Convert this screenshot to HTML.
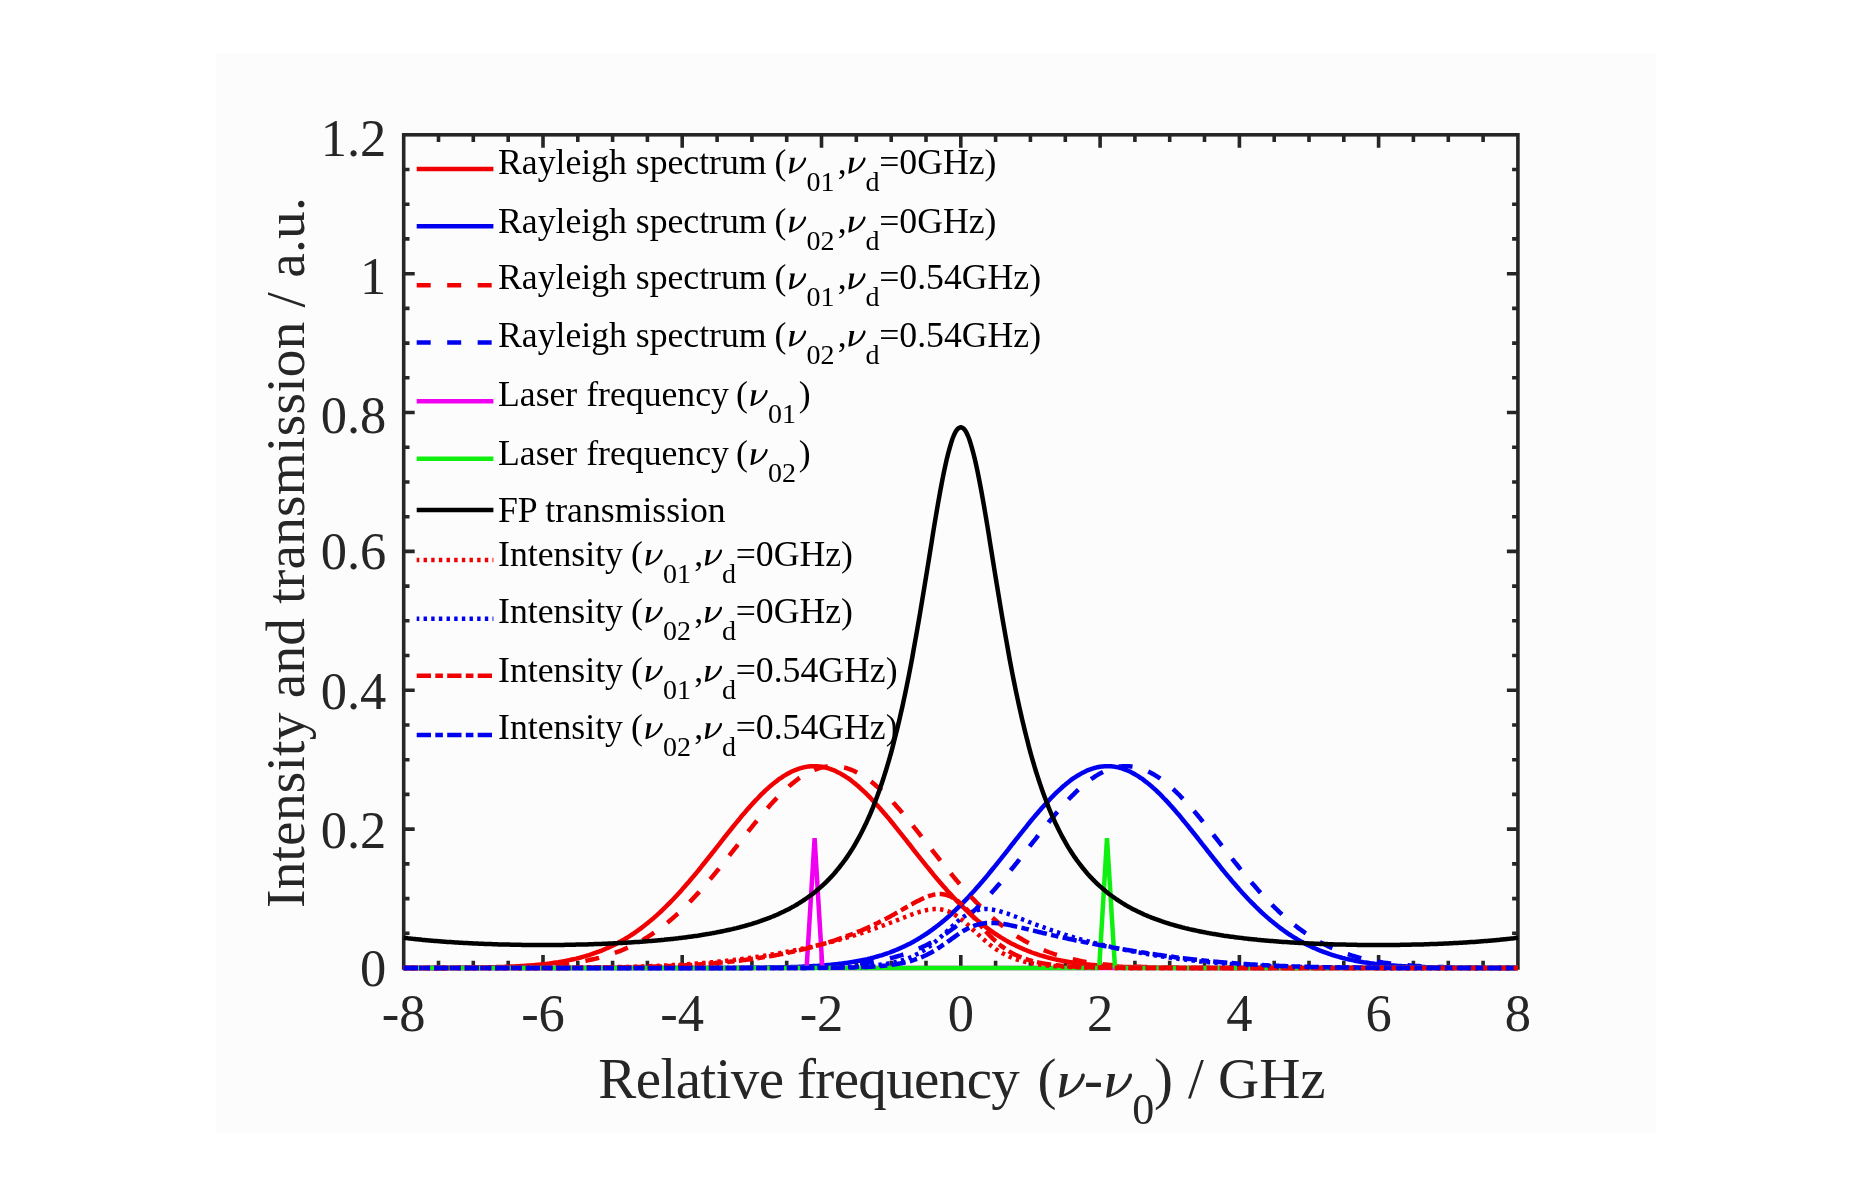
<!DOCTYPE html>
<html><head><meta charset="utf-8"><style>
html,body{margin:0;padding:0;background:#fff;}
body{width:1872px;height:1188px;position:relative;overflow:hidden;font-family:"Liberation Serif",serif;}
#panel{position:absolute;left:216px;top:54px;width:1440px;height:1080px;background:#fcfcfd;}
svg{position:absolute;left:0;top:0;will-change:transform;}
</style></head><body>
<div id="panel"></div>
<svg width="1872" height="1188" viewBox="0 0 1872 1188">
<path d="M438.5 968.0v-7.3M438.5 134.8v7.3M473.3 968.0v-7.3M473.3 134.8v7.3M508.2 968.0v-7.3M508.2 134.8v7.3M543.0 968.0v-13.0M543.0 134.8v13.0M577.8 968.0v-7.3M577.8 134.8v7.3M612.6 968.0v-7.3M612.6 134.8v7.3M647.4 968.0v-7.3M647.4 134.8v7.3M682.2 968.0v-13.0M682.2 134.8v13.0M717.1 968.0v-7.3M717.1 134.8v7.3M751.9 968.0v-7.3M751.9 134.8v7.3M786.7 968.0v-7.3M786.7 134.8v7.3M821.5 968.0v-13.0M821.5 134.8v13.0M856.3 968.0v-7.3M856.3 134.8v7.3M891.2 968.0v-7.3M891.2 134.8v7.3M926.0 968.0v-7.3M926.0 134.8v7.3M960.8 968.0v-13.0M960.8 134.8v13.0M995.6 968.0v-7.3M995.6 134.8v7.3M1030.4 968.0v-7.3M1030.4 134.8v7.3M1065.3 968.0v-7.3M1065.3 134.8v7.3M1100.1 968.0v-13.0M1100.1 134.8v13.0M1134.9 968.0v-7.3M1134.9 134.8v7.3M1169.7 968.0v-7.3M1169.7 134.8v7.3M1204.5 968.0v-7.3M1204.5 134.8v7.3M1239.4 968.0v-13.0M1239.4 134.8v13.0M1274.2 968.0v-7.3M1274.2 134.8v7.3M1309.0 968.0v-7.3M1309.0 134.8v7.3M1343.8 968.0v-7.3M1343.8 134.8v7.3M1378.6 968.0v-13.0M1378.6 134.8v13.0M1413.4 968.0v-7.3M1413.4 134.8v7.3M1448.3 968.0v-7.3M1448.3 134.8v7.3M1483.1 968.0v-7.3M1483.1 134.8v7.3M403.7 933.3h5.8M1517.9 933.3h-5.8M403.7 898.6h5.8M1517.9 898.6h-5.8M403.7 863.9h5.8M1517.9 863.9h-5.8M403.7 829.1h11.0M1517.9 829.1h-11.0M403.7 794.4h5.8M1517.9 794.4h-5.8M403.7 759.7h5.8M1517.9 759.7h-5.8M403.7 725.0h5.8M1517.9 725.0h-5.8M403.7 690.3h11.0M1517.9 690.3h-11.0M403.7 655.5h5.8M1517.9 655.5h-5.8M403.7 620.8h5.8M1517.9 620.8h-5.8M403.7 586.1h5.8M1517.9 586.1h-5.8M403.7 551.4h11.0M1517.9 551.4h-11.0M403.7 516.7h5.8M1517.9 516.7h-5.8M403.7 482.0h5.8M1517.9 482.0h-5.8M403.7 447.2h5.8M1517.9 447.2h-5.8M403.7 412.5h11.0M1517.9 412.5h-11.0M403.7 377.8h5.8M1517.9 377.8h-5.8M403.7 343.1h5.8M1517.9 343.1h-5.8M403.7 308.4h5.8M1517.9 308.4h-5.8M403.7 273.7h11.0M1517.9 273.7h-11.0M403.7 238.9h5.8M1517.9 238.9h-5.8M403.7 204.2h5.8M1517.9 204.2h-5.8M403.7 169.5h5.8M1517.9 169.5h-5.8" stroke="#262626" stroke-width="3.6" fill="none"/>
<rect x="403.7" y="134.8" width="1114.2" height="833.2" fill="none" stroke="#262626" stroke-width="3.6"/>
<path d="M403.7 968.0L405.1 968.0L406.5 968.0L407.9 968.0L409.3 968.0L410.7 968.0L412.1 968.0L413.4 968.0L414.8 968.0L416.2 968.0L417.6 968.0L419.0 968.0L420.4 968.0L421.8 968.0L423.2 967.9L424.6 967.9L426.0 967.9L427.4 967.9L428.8 967.9L430.2 967.9L431.6 967.9L432.9 967.9L434.3 967.9L435.7 967.9L437.1 967.9L438.5 967.9L439.9 967.9L441.3 967.9L442.7 967.9L444.1 967.9L445.5 967.9L446.9 967.9L448.3 967.9L449.7 967.8L451.1 967.8L452.4 967.8L453.8 967.8L455.2 967.8L456.6 967.8L458.0 967.8L459.4 967.8L460.8 967.8L462.2 967.8L463.6 967.7L465.0 967.7L466.4 967.7L467.8 967.7L469.2 967.7L470.6 967.7L471.9 967.6L473.3 967.6L474.7 967.6L476.1 967.6L477.5 967.6L478.9 967.5L480.3 967.5L481.7 967.5L483.1 967.5L484.5 967.4L485.9 967.4L487.3 967.4L488.7 967.3L490.1 967.3L491.4 967.3L492.8 967.2L494.2 967.2L495.6 967.2L497.0 967.1L498.4 967.1L499.8 967.0L501.2 967.0L502.6 966.9L504.0 966.9L505.4 966.8L506.8 966.8L508.2 966.7L509.5 966.7L510.9 966.6L512.3 966.5L513.7 966.5L515.1 966.4L516.5 966.3L517.9 966.3L519.3 966.2L520.7 966.1L522.1 966.0L523.5 965.9L524.9 965.8L526.3 965.7L527.7 965.6L529.0 965.5L530.4 965.4L531.8 965.3L533.2 965.2L534.6 965.1L536.0 964.9L537.4 964.8L538.8 964.7L540.2 964.5L541.6 964.4L543.0 964.2L544.4 964.1L545.8 963.9L547.2 963.8L548.5 963.6L549.9 963.4L551.3 963.2L552.7 963.0L554.1 962.8L555.5 962.6L556.9 962.4L558.3 962.2L559.7 961.9L561.1 961.7L562.5 961.5L563.9 961.2L565.3 961.0L566.7 960.7L568.0 960.4L569.4 960.1L570.8 959.8L572.2 959.5L573.6 959.2L575.0 958.9L576.4 958.6L577.8 958.2L579.2 957.9L580.6 957.5L582.0 957.1L583.4 956.7L584.8 956.3L586.2 955.9L587.5 955.5L588.9 955.1L590.3 954.6L591.7 954.2L593.1 953.7L594.5 953.2L595.9 952.7L597.3 952.2L598.7 951.7L600.1 951.1L601.5 950.6L602.9 950.0L604.3 949.4L605.6 948.8L607.0 948.2L608.4 947.6L609.8 947.0L611.2 946.3L612.6 945.6L614.0 945.0L615.4 944.3L616.8 943.5L618.2 942.8L619.6 942.0L621.0 941.3L622.4 940.5L623.8 939.7L625.1 938.9L626.5 938.0L627.9 937.2L629.3 936.3L630.7 935.4L632.1 934.5L633.5 933.6L634.9 932.6L636.3 931.6L637.7 930.7L639.1 929.6L640.5 928.6L641.9 927.6L643.3 926.5L644.6 925.4L646.0 924.3L647.4 923.2L648.8 922.1L650.2 920.9L651.6 919.8L653.0 918.6L654.4 917.4L655.8 916.1L657.2 914.9L658.6 913.6L660.0 912.3L661.4 911.0L662.8 909.7L664.1 908.4L665.5 907.0L666.9 905.6L668.3 904.2L669.7 902.8L671.1 901.4L672.5 900.0L673.9 898.5L675.3 897.0L676.7 895.5L678.1 894.0L679.5 892.5L680.9 890.9L682.2 889.4L683.6 887.8L685.0 886.2L686.4 884.6L687.8 883.0L689.2 881.4L690.6 879.7L692.0 878.1L693.4 876.4L694.8 874.8L696.2 873.1L697.6 871.4L699.0 869.7L700.4 868.0L701.7 866.2L703.1 864.5L704.5 862.8L705.9 861.0L707.3 859.3L708.7 857.5L710.1 855.8L711.5 854.0L712.9 852.2L714.3 850.5L715.7 848.7L717.1 846.9L718.5 845.1L719.9 843.4L721.2 841.6L722.6 839.8L724.0 838.0L725.4 836.3L726.8 834.5L728.2 832.8L729.6 831.0L731.0 829.3L732.4 827.5L733.8 825.8L735.2 824.1L736.6 822.4L738.0 820.7L739.4 819.0L740.7 817.3L742.1 815.6L743.5 814.0L744.9 812.4L746.3 810.7L747.7 809.1L749.1 807.6L750.5 806.0L751.9 804.4L753.3 802.9L754.7 801.4L756.1 799.9L757.5 798.5L758.9 797.0L760.2 795.6L761.6 794.2L763.0 792.8L764.4 791.5L765.8 790.2L767.2 788.9L768.6 787.7L770.0 786.4L771.4 785.2L772.8 784.1L774.2 782.9L775.6 781.8L777.0 780.8L778.3 779.7L779.7 778.7L781.1 777.8L782.5 776.8L783.9 775.9L785.3 775.1L786.7 774.3L788.1 773.5L789.5 772.7L790.9 772.0L792.3 771.3L793.7 770.7L795.1 770.1L796.5 769.6L797.8 769.1L799.2 768.6L800.6 768.2L802.0 767.8L803.4 767.4L804.8 767.1L806.2 766.9L807.6 766.6L809.0 766.5L810.4 766.3L811.8 766.2L813.2 766.2L814.6 766.2L816.0 766.2L817.3 766.3L818.7 766.4L820.1 766.5L821.5 766.7L822.9 767.0L824.3 767.3L825.7 767.6L827.1 768.0L828.5 768.4L829.9 768.8L831.3 769.3L832.7 769.8L834.1 770.4L835.5 771.0L836.8 771.7L838.2 772.4L839.6 773.1L841.0 773.9L842.4 774.7L843.8 775.5L845.2 776.4L846.6 777.3L848.0 778.2L849.4 779.2L850.8 780.2L852.2 781.3L853.6 782.4L855.0 783.5L856.3 784.7L857.7 785.8L859.1 787.0L860.5 788.3L861.9 789.6L863.3 790.9L864.7 792.2L866.1 793.5L867.5 794.9L868.9 796.3L870.3 797.7L871.7 799.2L873.1 800.7L874.4 802.2L875.8 803.7L877.2 805.2L878.6 806.8L880.0 808.3L881.4 809.9L882.8 811.5L884.2 813.2L885.6 814.8L887.0 816.5L888.4 818.1L889.8 819.8L891.2 821.5L892.6 823.2L893.9 824.9L895.3 826.7L896.7 828.4L898.1 830.1L899.5 831.9L900.9 833.6L902.3 835.4L903.7 837.2L905.1 838.9L906.5 840.7L907.9 842.5L909.3 844.2L910.7 846.0L912.1 847.8L913.4 849.6L914.8 851.3L916.2 853.1L917.6 854.9L919.0 856.6L920.4 858.4L921.8 860.1L923.2 861.9L924.6 863.6L926.0 865.4L927.4 867.1L928.8 868.8L930.2 870.5L931.6 872.2L932.9 873.9L934.3 875.6L935.7 877.3L937.1 878.9L938.5 880.6L939.9 882.2L941.3 883.8L942.7 885.4L944.1 887.0L945.5 888.6L946.9 890.2L948.3 891.7L949.7 893.2L951.1 894.8L952.4 896.3L953.8 897.8L955.2 899.2L956.6 900.7L958.0 902.1L959.4 903.5L960.8 904.9L962.2 906.3L963.6 907.7L965.0 909.0L966.4 910.4L967.8 911.7L969.2 913.0L970.5 914.3L971.9 915.5L973.3 916.8L974.7 918.0L976.1 919.2L977.5 920.4L978.9 921.5L980.3 922.7L981.7 923.8L983.1 924.9L984.5 926.0L985.9 927.1L987.3 928.1L988.7 929.1L990.0 930.2L991.4 931.1L992.8 932.1L994.2 933.1L995.6 934.0L997.0 934.9L998.4 935.8L999.8 936.7L1001.2 937.6L1002.6 938.4L1004.0 939.3L1005.4 940.1L1006.8 940.9L1008.2 941.7L1009.5 942.4L1010.9 943.2L1012.3 943.9L1013.7 944.6L1015.1 945.3L1016.5 946.0L1017.9 946.6L1019.3 947.3L1020.7 947.9L1022.1 948.5L1023.5 949.1L1024.9 949.7L1026.3 950.3L1027.7 950.9L1029.0 951.4L1030.4 951.9L1031.8 952.5L1033.2 953.0L1034.6 953.5L1036.0 953.9L1037.4 954.4L1038.8 954.8L1040.2 955.3L1041.6 955.7L1043.0 956.1L1044.4 956.5L1045.8 956.9L1047.2 957.3L1048.5 957.7L1049.9 958.0L1051.3 958.4L1052.7 958.7L1054.1 959.1L1055.5 959.4L1056.9 959.7L1058.3 960.0L1059.7 960.3L1061.1 960.6L1062.5 960.8L1063.9 961.1L1065.3 961.3L1066.6 961.6L1068.0 961.8L1069.4 962.1L1070.8 962.3L1072.2 962.5L1073.6 962.7L1075.0 962.9L1076.4 963.1L1077.8 963.3L1079.2 963.5L1080.6 963.7L1082.0 963.8L1083.4 964.0L1084.8 964.2L1086.1 964.3L1087.5 964.5L1088.9 964.6L1090.3 964.7L1091.7 964.9L1093.1 965.0L1094.5 965.1L1095.9 965.2L1097.3 965.4L1098.7 965.5L1100.1 965.6L1101.5 965.7L1102.9 965.8L1104.3 965.9L1105.6 966.0L1107.0 966.1L1108.4 966.1L1109.8 966.2L1111.2 966.3L1112.6 966.4L1114.0 966.4L1115.4 966.5L1116.8 966.6L1118.2 966.6L1119.6 966.7L1121.0 966.8L1122.4 966.8L1123.8 966.9L1125.1 966.9L1126.5 967.0L1127.9 967.0L1129.3 967.1L1130.7 967.1L1132.1 967.2L1133.5 967.2L1134.9 967.2L1136.3 967.3L1137.7 967.3L1139.1 967.3L1140.5 967.4L1141.9 967.4L1143.3 967.4L1144.6 967.5L1146.0 967.5L1147.4 967.5L1148.8 967.5L1150.2 967.6L1151.6 967.6L1153.0 967.6L1154.4 967.6L1155.8 967.6L1157.2 967.7L1158.6 967.7L1160.0 967.7L1161.4 967.7L1162.7 967.7L1164.1 967.7L1165.5 967.7L1166.9 967.8L1168.3 967.8L1169.7 967.8L1171.1 967.8L1172.5 967.8L1173.9 967.8L1175.3 967.8L1176.7 967.8L1178.1 967.8L1179.5 967.9L1180.9 967.9L1182.2 967.9L1183.6 967.9L1185.0 967.9L1186.4 967.9L1187.8 967.9L1189.2 967.9L1190.6 967.9L1192.0 967.9L1193.4 967.9L1194.8 967.9L1196.2 967.9L1197.6 967.9L1199.0 967.9L1200.4 967.9L1201.7 967.9L1203.1 967.9L1204.5 967.9L1205.9 968.0L1207.3 968.0L1208.7 968.0L1210.1 968.0L1211.5 968.0L1212.9 968.0L1214.3 968.0L1215.7 968.0L1217.1 968.0L1218.5 968.0L1219.9 968.0L1221.2 968.0L1222.6 968.0L1224.0 968.0L1225.4 968.0L1226.8 968.0L1228.2 968.0L1229.6 968.0L1231.0 968.0L1232.4 968.0L1233.8 968.0L1235.2 968.0L1236.6 968.0L1238.0 968.0L1239.4 968.0L1240.7 968.0L1242.1 968.0L1243.5 968.0L1244.9 968.0L1246.3 968.0L1247.7 968.0L1249.1 968.0L1250.5 968.0L1251.9 968.0L1253.3 968.0L1254.7 968.0L1256.1 968.0L1257.5 968.0L1258.8 968.0L1260.2 968.0L1261.6 968.0L1263.0 968.0L1264.4 968.0L1265.8 968.0L1267.2 968.0L1268.6 968.0L1270.0 968.0L1271.4 968.0L1272.8 968.0L1274.2 968.0L1275.6 968.0L1277.0 968.0L1278.3 968.0L1279.7 968.0L1281.1 968.0L1282.5 968.0L1283.9 968.0L1285.3 968.0L1286.7 968.0L1288.1 968.0L1289.5 968.0L1290.9 968.0L1292.3 968.0L1293.7 968.0L1295.1 968.0L1296.5 968.0L1297.8 968.0L1299.2 968.0L1300.6 968.0L1302.0 968.0L1303.4 968.0L1304.8 968.0L1306.2 968.0L1307.6 968.0L1309.0 968.0L1310.4 968.0L1311.8 968.0L1313.2 968.0L1314.6 968.0L1316.0 968.0L1317.3 968.0L1318.7 968.0L1320.1 968.0L1321.5 968.0L1322.9 968.0L1324.3 968.0L1325.7 968.0L1327.1 968.0L1328.5 968.0L1329.9 968.0L1331.3 968.0L1332.7 968.0L1334.1 968.0L1335.4 968.0L1336.8 968.0L1338.2 968.0L1339.6 968.0L1341.0 968.0L1342.4 968.0L1343.8 968.0L1345.2 968.0L1346.6 968.0L1348.0 968.0L1349.4 968.0L1350.8 968.0L1352.2 968.0L1353.6 968.0L1354.9 968.0L1356.3 968.0L1357.7 968.0L1359.1 968.0L1360.5 968.0L1361.9 968.0L1363.3 968.0L1364.7 968.0L1366.1 968.0L1367.5 968.0L1368.9 968.0L1370.3 968.0L1371.7 968.0L1373.1 968.0L1374.4 968.0L1375.8 968.0L1377.2 968.0L1378.6 968.0L1380.0 968.0L1381.4 968.0L1382.8 968.0L1384.2 968.0L1385.6 968.0L1387.0 968.0L1388.4 968.0L1389.8 968.0L1391.2 968.0L1392.6 968.0L1393.9 968.0L1395.3 968.0L1396.7 968.0L1398.1 968.0L1399.5 968.0L1400.9 968.0L1402.3 968.0L1403.7 968.0L1405.1 968.0L1406.5 968.0L1407.9 968.0L1409.3 968.0L1410.7 968.0L1412.1 968.0L1413.4 968.0L1414.8 968.0L1416.2 968.0L1417.6 968.0L1419.0 968.0L1420.4 968.0L1421.8 968.0L1423.2 968.0L1424.6 968.0L1426.0 968.0L1427.4 968.0L1428.8 968.0L1430.2 968.0L1431.5 968.0L1432.9 968.0L1434.3 968.0L1435.7 968.0L1437.1 968.0L1438.5 968.0L1439.9 968.0L1441.3 968.0L1442.7 968.0L1444.1 968.0L1445.5 968.0L1446.9 968.0L1448.3 968.0L1449.7 968.0L1451.0 968.0L1452.4 968.0L1453.8 968.0L1455.2 968.0L1456.6 968.0L1458.0 968.0L1459.4 968.0L1460.8 968.0L1462.2 968.0L1463.6 968.0L1465.0 968.0L1466.4 968.0L1467.8 968.0L1469.2 968.0L1470.5 968.0L1471.9 968.0L1473.3 968.0L1474.7 968.0L1476.1 968.0L1477.5 968.0L1478.9 968.0L1480.3 968.0L1481.7 968.0L1483.1 968.0L1484.5 968.0L1485.9 968.0L1487.3 968.0L1488.7 968.0L1490.0 968.0L1491.4 968.0L1492.8 968.0L1494.2 968.0L1495.6 968.0L1497.0 968.0L1498.4 968.0L1499.8 968.0L1501.2 968.0L1502.6 968.0L1504.0 968.0L1505.4 968.0L1506.8 968.0L1508.2 968.0L1509.5 968.0L1510.9 968.0L1512.3 968.0L1513.7 968.0L1515.1 968.0L1516.5 968.0L1517.9 968.0" stroke="#f00000" stroke-width="4.5" fill="none" stroke-linejoin="round"/>
<path d="M403.7 968.0L405.1 968.0L406.5 968.0L407.9 968.0L409.3 968.0L410.7 968.0L412.1 968.0L413.4 968.0L414.8 968.0L416.2 968.0L417.6 968.0L419.0 968.0L420.4 968.0L421.8 968.0L423.2 968.0L424.6 968.0L426.0 968.0L427.4 968.0L428.8 968.0L430.2 968.0L431.6 968.0L432.9 968.0L434.3 968.0L435.7 968.0L437.1 968.0L438.5 968.0L439.9 968.0L441.3 968.0L442.7 968.0L444.1 968.0L445.5 968.0L446.9 968.0L448.3 968.0L449.7 968.0L451.1 968.0L452.4 968.0L453.8 968.0L455.2 968.0L456.6 968.0L458.0 968.0L459.4 968.0L460.8 968.0L462.2 968.0L463.6 968.0L465.0 968.0L466.4 968.0L467.8 968.0L469.2 968.0L470.6 968.0L471.9 968.0L473.3 968.0L474.7 968.0L476.1 968.0L477.5 968.0L478.9 968.0L480.3 968.0L481.7 968.0L483.1 968.0L484.5 968.0L485.9 968.0L487.3 968.0L488.7 968.0L490.1 968.0L491.4 968.0L492.8 968.0L494.2 968.0L495.6 968.0L497.0 968.0L498.4 968.0L499.8 968.0L501.2 968.0L502.6 968.0L504.0 968.0L505.4 968.0L506.8 968.0L508.2 968.0L509.5 968.0L510.9 968.0L512.3 968.0L513.7 968.0L515.1 968.0L516.5 968.0L517.9 968.0L519.3 968.0L520.7 968.0L522.1 968.0L523.5 968.0L524.9 968.0L526.3 968.0L527.7 968.0L529.0 968.0L530.4 968.0L531.8 968.0L533.2 968.0L534.6 968.0L536.0 968.0L537.4 968.0L538.8 968.0L540.2 968.0L541.6 968.0L543.0 968.0L544.4 968.0L545.8 968.0L547.2 968.0L548.5 968.0L549.9 968.0L551.3 968.0L552.7 968.0L554.1 968.0L555.5 968.0L556.9 968.0L558.3 968.0L559.7 968.0L561.1 968.0L562.5 968.0L563.9 968.0L565.3 968.0L566.7 968.0L568.0 968.0L569.4 968.0L570.8 968.0L572.2 968.0L573.6 968.0L575.0 968.0L576.4 968.0L577.8 968.0L579.2 968.0L580.6 968.0L582.0 968.0L583.4 968.0L584.8 968.0L586.2 968.0L587.5 968.0L588.9 968.0L590.3 968.0L591.7 968.0L593.1 968.0L594.5 968.0L595.9 968.0L597.3 968.0L598.7 968.0L600.1 968.0L601.5 968.0L602.9 968.0L604.3 968.0L605.6 968.0L607.0 968.0L608.4 968.0L609.8 968.0L611.2 968.0L612.6 968.0L614.0 968.0L615.4 968.0L616.8 968.0L618.2 968.0L619.6 968.0L621.0 968.0L622.4 968.0L623.8 968.0L625.1 968.0L626.5 968.0L627.9 968.0L629.3 968.0L630.7 968.0L632.1 968.0L633.5 968.0L634.9 968.0L636.3 968.0L637.7 968.0L639.1 968.0L640.5 968.0L641.9 968.0L643.3 968.0L644.6 968.0L646.0 968.0L647.4 968.0L648.8 968.0L650.2 968.0L651.6 968.0L653.0 968.0L654.4 968.0L655.8 968.0L657.2 968.0L658.6 968.0L660.0 968.0L661.4 968.0L662.8 968.0L664.1 968.0L665.5 968.0L666.9 968.0L668.3 968.0L669.7 968.0L671.1 968.0L672.5 968.0L673.9 968.0L675.3 968.0L676.7 968.0L678.1 968.0L679.5 968.0L680.9 968.0L682.2 968.0L683.6 968.0L685.0 968.0L686.4 968.0L687.8 968.0L689.2 968.0L690.6 968.0L692.0 968.0L693.4 968.0L694.8 968.0L696.2 968.0L697.6 968.0L699.0 968.0L700.4 968.0L701.7 968.0L703.1 968.0L704.5 968.0L705.9 968.0L707.3 968.0L708.7 968.0L710.1 968.0L711.5 968.0L712.9 968.0L714.3 968.0L715.7 968.0L717.1 967.9L718.5 967.9L719.9 967.9L721.2 967.9L722.6 967.9L724.0 967.9L725.4 967.9L726.8 967.9L728.2 967.9L729.6 967.9L731.0 967.9L732.4 967.9L733.8 967.9L735.2 967.9L736.6 967.9L738.0 967.9L739.4 967.9L740.7 967.9L742.1 967.9L743.5 967.8L744.9 967.8L746.3 967.8L747.7 967.8L749.1 967.8L750.5 967.8L751.9 967.8L753.3 967.8L754.7 967.8L756.1 967.7L757.5 967.7L758.9 967.7L760.2 967.7L761.6 967.7L763.0 967.7L764.4 967.7L765.8 967.6L767.2 967.6L768.6 967.6L770.0 967.6L771.4 967.6L772.8 967.5L774.2 967.5L775.6 967.5L777.0 967.5L778.3 967.4L779.7 967.4L781.1 967.4L782.5 967.3L783.9 967.3L785.3 967.3L786.7 967.2L788.1 967.2L789.5 967.2L790.9 967.1L792.3 967.1L793.7 967.0L795.1 967.0L796.5 966.9L797.8 966.9L799.2 966.8L800.6 966.8L802.0 966.7L803.4 966.6L804.8 966.6L806.2 966.5L807.6 966.4L809.0 966.4L810.4 966.3L811.8 966.2L813.2 966.1L814.6 966.1L816.0 966.0L817.3 965.9L818.7 965.8L820.1 965.7L821.5 965.6L822.9 965.5L824.3 965.4L825.7 965.2L827.1 965.1L828.5 965.0L829.9 964.9L831.3 964.7L832.7 964.6L834.1 964.5L835.5 964.3L836.8 964.2L838.2 964.0L839.6 963.8L841.0 963.7L842.4 963.5L843.8 963.3L845.2 963.1L846.6 962.9L848.0 962.7L849.4 962.5L850.8 962.3L852.2 962.1L853.6 961.8L855.0 961.6L856.3 961.3L857.7 961.1L859.1 960.8L860.5 960.6L861.9 960.3L863.3 960.0L864.7 959.7L866.1 959.4L867.5 959.1L868.9 958.7L870.3 958.4L871.7 958.0L873.1 957.7L874.4 957.3L875.8 956.9L877.2 956.5L878.6 956.1L880.0 955.7L881.4 955.3L882.8 954.8L884.2 954.4L885.6 953.9L887.0 953.5L888.4 953.0L889.8 952.5L891.2 951.9L892.6 951.4L893.9 950.9L895.3 950.3L896.7 949.7L898.1 949.1L899.5 948.5L900.9 947.9L902.3 947.3L903.7 946.6L905.1 946.0L906.5 945.3L907.9 944.6L909.3 943.9L910.7 943.2L912.1 942.4L913.4 941.7L914.8 940.9L916.2 940.1L917.6 939.3L919.0 938.4L920.4 937.6L921.8 936.7L923.2 935.8L924.6 934.9L926.0 934.0L927.4 933.1L928.8 932.1L930.2 931.1L931.6 930.2L932.9 929.1L934.3 928.1L935.7 927.1L937.1 926.0L938.5 924.9L939.9 923.8L941.3 922.7L942.7 921.5L944.1 920.4L945.5 919.2L946.9 918.0L948.3 916.8L949.7 915.5L951.1 914.3L952.4 913.0L953.8 911.7L955.2 910.4L956.6 909.0L958.0 907.7L959.4 906.3L960.8 904.9L962.2 903.5L963.6 902.1L965.0 900.7L966.4 899.2L967.8 897.8L969.2 896.3L970.5 894.8L971.9 893.2L973.3 891.7L974.7 890.2L976.1 888.6L977.5 887.0L978.9 885.4L980.3 883.8L981.7 882.2L983.1 880.6L984.5 878.9L985.9 877.3L987.3 875.6L988.7 873.9L990.0 872.2L991.4 870.5L992.8 868.8L994.2 867.1L995.6 865.4L997.0 863.6L998.4 861.9L999.8 860.1L1001.2 858.4L1002.6 856.6L1004.0 854.9L1005.4 853.1L1006.8 851.3L1008.2 849.6L1009.5 847.8L1010.9 846.0L1012.3 844.2L1013.7 842.5L1015.1 840.7L1016.5 838.9L1017.9 837.2L1019.3 835.4L1020.7 833.6L1022.1 831.9L1023.5 830.1L1024.9 828.4L1026.3 826.7L1027.7 824.9L1029.0 823.2L1030.4 821.5L1031.8 819.8L1033.2 818.1L1034.6 816.5L1036.0 814.8L1037.4 813.2L1038.8 811.5L1040.2 809.9L1041.6 808.3L1043.0 806.8L1044.4 805.2L1045.8 803.7L1047.2 802.2L1048.5 800.7L1049.9 799.2L1051.3 797.7L1052.7 796.3L1054.1 794.9L1055.5 793.5L1056.9 792.2L1058.3 790.9L1059.7 789.6L1061.1 788.3L1062.5 787.0L1063.9 785.8L1065.3 784.7L1066.6 783.5L1068.0 782.4L1069.4 781.3L1070.8 780.2L1072.2 779.2L1073.6 778.2L1075.0 777.3L1076.4 776.4L1077.8 775.5L1079.2 774.7L1080.6 773.9L1082.0 773.1L1083.4 772.4L1084.8 771.7L1086.1 771.0L1087.5 770.4L1088.9 769.8L1090.3 769.3L1091.7 768.8L1093.1 768.4L1094.5 768.0L1095.9 767.6L1097.3 767.3L1098.7 767.0L1100.1 766.7L1101.5 766.5L1102.9 766.4L1104.3 766.3L1105.6 766.2L1107.0 766.2L1108.4 766.2L1109.8 766.2L1111.2 766.3L1112.6 766.5L1114.0 766.6L1115.4 766.9L1116.8 767.1L1118.2 767.4L1119.6 767.8L1121.0 768.2L1122.4 768.6L1123.8 769.1L1125.1 769.6L1126.5 770.1L1127.9 770.7L1129.3 771.3L1130.7 772.0L1132.1 772.7L1133.5 773.5L1134.9 774.3L1136.3 775.1L1137.7 775.9L1139.1 776.8L1140.5 777.8L1141.9 778.7L1143.3 779.7L1144.6 780.8L1146.0 781.8L1147.4 782.9L1148.8 784.1L1150.2 785.2L1151.6 786.4L1153.0 787.7L1154.4 788.9L1155.8 790.2L1157.2 791.5L1158.6 792.8L1160.0 794.2L1161.4 795.6L1162.7 797.0L1164.1 798.5L1165.5 799.9L1166.9 801.4L1168.3 802.9L1169.7 804.4L1171.1 806.0L1172.5 807.6L1173.9 809.1L1175.3 810.7L1176.7 812.4L1178.1 814.0L1179.5 815.6L1180.9 817.3L1182.2 819.0L1183.6 820.7L1185.0 822.4L1186.4 824.1L1187.8 825.8L1189.2 827.5L1190.6 829.3L1192.0 831.0L1193.4 832.8L1194.8 834.5L1196.2 836.3L1197.6 838.0L1199.0 839.8L1200.4 841.6L1201.7 843.4L1203.1 845.1L1204.5 846.9L1205.9 848.7L1207.3 850.5L1208.7 852.2L1210.1 854.0L1211.5 855.8L1212.9 857.5L1214.3 859.3L1215.7 861.0L1217.1 862.8L1218.5 864.5L1219.9 866.2L1221.2 868.0L1222.6 869.7L1224.0 871.4L1225.4 873.1L1226.8 874.8L1228.2 876.4L1229.6 878.1L1231.0 879.7L1232.4 881.4L1233.8 883.0L1235.2 884.6L1236.6 886.2L1238.0 887.8L1239.4 889.4L1240.7 890.9L1242.1 892.5L1243.5 894.0L1244.9 895.5L1246.3 897.0L1247.7 898.5L1249.1 900.0L1250.5 901.4L1251.9 902.8L1253.3 904.2L1254.7 905.6L1256.1 907.0L1257.5 908.4L1258.8 909.7L1260.2 911.0L1261.6 912.3L1263.0 913.6L1264.4 914.9L1265.8 916.1L1267.2 917.4L1268.6 918.6L1270.0 919.8L1271.4 920.9L1272.8 922.1L1274.2 923.2L1275.6 924.3L1277.0 925.4L1278.3 926.5L1279.7 927.6L1281.1 928.6L1282.5 929.6L1283.9 930.7L1285.3 931.6L1286.7 932.6L1288.1 933.6L1289.5 934.5L1290.9 935.4L1292.3 936.3L1293.7 937.2L1295.1 938.0L1296.5 938.9L1297.8 939.7L1299.2 940.5L1300.6 941.3L1302.0 942.0L1303.4 942.8L1304.8 943.5L1306.2 944.3L1307.6 945.0L1309.0 945.6L1310.4 946.3L1311.8 947.0L1313.2 947.6L1314.6 948.2L1316.0 948.8L1317.3 949.4L1318.7 950.0L1320.1 950.6L1321.5 951.1L1322.9 951.7L1324.3 952.2L1325.7 952.7L1327.1 953.2L1328.5 953.7L1329.9 954.2L1331.3 954.6L1332.7 955.1L1334.1 955.5L1335.4 955.9L1336.8 956.3L1338.2 956.7L1339.6 957.1L1341.0 957.5L1342.4 957.9L1343.8 958.2L1345.2 958.6L1346.6 958.9L1348.0 959.2L1349.4 959.5L1350.8 959.8L1352.2 960.1L1353.6 960.4L1354.9 960.7L1356.3 961.0L1357.7 961.2L1359.1 961.5L1360.5 961.7L1361.9 961.9L1363.3 962.2L1364.7 962.4L1366.1 962.6L1367.5 962.8L1368.9 963.0L1370.3 963.2L1371.7 963.4L1373.1 963.6L1374.4 963.8L1375.8 963.9L1377.2 964.1L1378.6 964.2L1380.0 964.4L1381.4 964.5L1382.8 964.7L1384.2 964.8L1385.6 964.9L1387.0 965.1L1388.4 965.2L1389.8 965.3L1391.2 965.4L1392.6 965.5L1393.9 965.6L1395.3 965.7L1396.7 965.8L1398.1 965.9L1399.5 966.0L1400.9 966.1L1402.3 966.2L1403.7 966.3L1405.1 966.3L1406.5 966.4L1407.9 966.5L1409.3 966.5L1410.7 966.6L1412.1 966.7L1413.4 966.7L1414.8 966.8L1416.2 966.8L1417.6 966.9L1419.0 966.9L1420.4 967.0L1421.8 967.0L1423.2 967.1L1424.6 967.1L1426.0 967.2L1427.4 967.2L1428.8 967.2L1430.2 967.3L1431.5 967.3L1432.9 967.3L1434.3 967.4L1435.7 967.4L1437.1 967.4L1438.5 967.5L1439.9 967.5L1441.3 967.5L1442.7 967.5L1444.1 967.6L1445.5 967.6L1446.9 967.6L1448.3 967.6L1449.7 967.6L1451.0 967.7L1452.4 967.7L1453.8 967.7L1455.2 967.7L1456.6 967.7L1458.0 967.7L1459.4 967.8L1460.8 967.8L1462.2 967.8L1463.6 967.8L1465.0 967.8L1466.4 967.8L1467.8 967.8L1469.2 967.8L1470.5 967.8L1471.9 967.8L1473.3 967.9L1474.7 967.9L1476.1 967.9L1477.5 967.9L1478.9 967.9L1480.3 967.9L1481.7 967.9L1483.1 967.9L1484.5 967.9L1485.9 967.9L1487.3 967.9L1488.7 967.9L1490.0 967.9L1491.4 967.9L1492.8 967.9L1494.2 967.9L1495.6 967.9L1497.0 967.9L1498.4 967.9L1499.8 968.0L1501.2 968.0L1502.6 968.0L1504.0 968.0L1505.4 968.0L1506.8 968.0L1508.2 968.0L1509.5 968.0L1510.9 968.0L1512.3 968.0L1513.7 968.0L1515.1 968.0L1516.5 968.0L1517.9 968.0" stroke="#0000f0" stroke-width="4.5" fill="none" stroke-linejoin="round"/>
<path d="M403.7 968.0L405.1 968.0L406.5 968.0L407.9 968.0L409.3 968.0L410.7 968.0L412.1 968.0L413.4 968.0L414.8 968.0L416.2 968.0L417.6 968.0L419.0 968.0L420.4 968.0L421.8 968.0L423.2 968.0L424.6 968.0L426.0 968.0L427.4 968.0L428.8 968.0L430.2 968.0L431.6 968.0L432.9 968.0L434.3 968.0L435.7 968.0L437.1 968.0L438.5 968.0L439.9 968.0L441.3 968.0L442.7 967.9L444.1 967.9L445.5 967.9L446.9 967.9L448.3 967.9L449.7 967.9L451.1 967.9L452.4 967.9L453.8 967.9L455.2 967.9L456.6 967.9L458.0 967.9L459.4 967.9L460.8 967.9L462.2 967.9L463.6 967.9L465.0 967.9L466.4 967.9L467.8 967.9L469.2 967.9L470.6 967.8L471.9 967.8L473.3 967.8L474.7 967.8L476.1 967.8L477.5 967.8L478.9 967.8L480.3 967.8L481.7 967.8L483.1 967.7L484.5 967.7L485.9 967.7L487.3 967.7L488.7 967.7L490.1 967.7L491.4 967.7L492.8 967.6L494.2 967.6L495.6 967.6L497.0 967.6L498.4 967.5L499.8 967.5L501.2 967.5L502.6 967.5L504.0 967.4L505.4 967.4L506.8 967.4L508.2 967.4L509.5 967.3L510.9 967.3L512.3 967.3L513.7 967.2L515.1 967.2L516.5 967.1L517.9 967.1L519.3 967.1L520.7 967.0L522.1 967.0L523.5 966.9L524.9 966.9L526.3 966.8L527.7 966.7L529.0 966.7L530.4 966.6L531.8 966.6L533.2 966.5L534.6 966.4L536.0 966.3L537.4 966.3L538.8 966.2L540.2 966.1L541.6 966.0L543.0 965.9L544.4 965.8L545.8 965.7L547.2 965.6L548.5 965.5L549.9 965.4L551.3 965.3L552.7 965.2L554.1 965.1L555.5 965.0L556.9 964.8L558.3 964.7L559.7 964.6L561.1 964.4L562.5 964.3L563.9 964.1L565.3 963.9L566.7 963.8L568.0 963.6L569.4 963.4L570.8 963.2L572.2 963.0L573.6 962.8L575.0 962.6L576.4 962.4L577.8 962.2L579.2 962.0L580.6 961.7L582.0 961.5L583.4 961.2L584.8 961.0L586.2 960.7L587.5 960.4L588.9 960.1L590.3 959.8L591.7 959.5L593.1 959.2L594.5 958.9L595.9 958.6L597.3 958.2L598.7 957.9L600.1 957.5L601.5 957.1L602.9 956.7L604.3 956.3L605.6 955.9L607.0 955.5L608.4 955.1L609.8 954.6L611.2 954.2L612.6 953.7L614.0 953.2L615.4 952.7L616.8 952.2L618.2 951.7L619.6 951.1L621.0 950.6L622.4 950.0L623.8 949.4L625.1 948.8L626.5 948.2L627.9 947.6L629.3 946.9L630.7 946.3L632.1 945.6L633.5 944.9L634.9 944.2L636.3 943.5L637.7 942.7L639.1 942.0L640.5 941.2L641.9 940.4L643.3 939.6L644.6 938.8L646.0 937.9L647.4 937.1L648.8 936.2L650.2 935.3L651.6 934.4L653.0 933.4L654.4 932.5L655.8 931.5L657.2 930.5L658.6 929.5L660.0 928.5L661.4 927.4L662.8 926.4L664.1 925.3L665.5 924.2L666.9 923.0L668.3 921.9L669.7 920.7L671.1 919.6L672.5 918.4L673.9 917.1L675.3 915.9L676.7 914.6L678.1 913.4L679.5 912.1L680.9 910.8L682.2 909.4L683.6 908.1L685.0 906.7L686.4 905.3L687.8 903.9L689.2 902.5L690.6 901.1L692.0 899.6L693.4 898.1L694.8 896.7L696.2 895.1L697.6 893.6L699.0 892.1L700.4 890.5L701.7 889.0L703.1 887.4L704.5 885.8L705.9 884.2L707.3 882.6L708.7 880.9L710.1 879.3L711.5 877.6L712.9 875.9L714.3 874.3L715.7 872.6L717.1 870.9L718.5 869.2L719.9 867.4L721.2 865.7L722.6 864.0L724.0 862.2L725.4 860.5L726.8 858.7L728.2 856.9L729.6 855.2L731.0 853.4L732.4 851.6L733.8 849.8L735.2 848.1L736.6 846.3L738.0 844.5L739.4 842.7L740.7 840.9L742.1 839.2L743.5 837.4L744.9 835.6L746.3 833.9L747.7 832.1L749.1 830.3L750.5 828.6L751.9 826.9L753.3 825.1L754.7 823.4L756.1 821.7L757.5 820.0L758.9 818.3L760.2 816.6L761.6 815.0L763.0 813.3L764.4 811.7L765.8 810.1L767.2 808.5L768.6 806.9L770.0 805.3L771.4 803.8L772.8 802.2L774.2 800.7L775.6 799.3L777.0 797.8L778.3 796.4L779.7 795.0L781.1 793.6L782.5 792.2L783.9 790.9L785.3 789.6L786.7 788.3L788.1 787.1L789.5 785.8L790.9 784.7L792.3 783.5L793.7 782.4L795.1 781.3L796.5 780.2L797.8 779.2L799.2 778.2L800.6 777.3L802.0 776.4L803.4 775.5L804.8 774.6L806.2 773.8L807.6 773.1L809.0 772.3L810.4 771.7L811.8 771.0L813.2 770.4L814.6 769.8L816.0 769.3L817.3 768.8L818.7 768.3L820.1 767.9L821.5 767.6L822.9 767.2L824.3 767.0L825.7 766.7L827.1 766.5L828.5 766.4L829.9 766.3L831.3 766.2L832.7 766.2L834.1 766.2L835.5 766.2L836.8 766.3L838.2 766.5L839.6 766.7L841.0 766.9L842.4 767.2L843.8 767.5L845.2 767.8L846.6 768.2L848.0 768.7L849.4 769.1L850.8 769.7L852.2 770.2L853.6 770.8L855.0 771.5L856.3 772.1L857.7 772.8L859.1 773.6L860.5 774.4L861.9 775.2L863.3 776.1L864.7 777.0L866.1 777.9L867.5 778.9L868.9 779.9L870.3 781.0L871.7 782.1L873.1 783.2L874.4 784.3L875.8 785.5L877.2 786.7L878.6 787.9L880.0 789.2L881.4 790.5L882.8 791.8L884.2 793.2L885.6 794.5L887.0 795.9L888.4 797.4L889.8 798.8L891.2 800.3L892.6 801.8L893.9 803.3L895.3 804.8L896.7 806.4L898.1 808.0L899.5 809.6L900.9 811.2L902.3 812.8L903.7 814.5L905.1 816.1L906.5 817.8L907.9 819.5L909.3 821.2L910.7 822.9L912.1 824.6L913.4 826.3L914.8 828.1L916.2 829.8L917.6 831.6L919.0 833.3L920.4 835.1L921.8 836.9L923.2 838.6L924.6 840.4L926.0 842.2L927.4 844.0L928.8 845.8L930.2 847.5L931.6 849.3L932.9 851.1L934.3 852.9L935.7 854.6L937.1 856.4L938.5 858.2L939.9 859.9L941.3 861.7L942.7 863.4L944.1 865.2L945.5 866.9L946.9 868.6L948.3 870.4L949.7 872.1L951.1 873.8L952.4 875.4L953.8 877.1L955.2 878.8L956.6 880.4L958.0 882.1L959.4 883.7L960.8 885.3L962.2 886.9L963.6 888.5L965.0 890.1L966.4 891.6L967.8 893.2L969.2 894.7L970.5 896.2L971.9 897.7L973.3 899.2L974.7 900.6L976.1 902.1L977.5 903.5L978.9 904.9L980.3 906.3L981.7 907.7L983.1 909.0L984.5 910.4L985.9 911.7L987.3 913.0L988.7 914.3L990.0 915.5L991.4 916.8L992.8 918.0L994.2 919.2L995.6 920.4L997.0 921.6L998.4 922.7L999.8 923.8L1001.2 924.9L1002.6 926.0L1004.0 927.1L1005.4 928.2L1006.8 929.2L1008.2 930.2L1009.5 931.2L1010.9 932.2L1012.3 933.1L1013.7 934.1L1015.1 935.0L1016.5 935.9L1017.9 936.8L1019.3 937.7L1020.7 938.5L1022.1 939.3L1023.5 940.2L1024.9 941.0L1026.3 941.7L1027.7 942.5L1029.0 943.2L1030.4 944.0L1031.8 944.7L1033.2 945.4L1034.6 946.1L1036.0 946.7L1037.4 947.4L1038.8 948.0L1040.2 948.6L1041.6 949.2L1043.0 949.8L1044.4 950.4L1045.8 951.0L1047.2 951.5L1048.5 952.0L1049.9 952.5L1051.3 953.0L1052.7 953.5L1054.1 954.0L1055.5 954.5L1056.9 954.9L1058.3 955.4L1059.7 955.8L1061.1 956.2L1062.5 956.6L1063.9 957.0L1065.3 957.4L1066.6 957.8L1068.0 958.1L1069.4 958.5L1070.8 958.8L1072.2 959.1L1073.6 959.4L1075.0 959.7L1076.4 960.0L1077.8 960.3L1079.2 960.6L1080.6 960.9L1082.0 961.2L1083.4 961.4L1084.8 961.7L1086.1 961.9L1087.5 962.1L1088.9 962.3L1090.3 962.6L1091.7 962.8L1093.1 963.0L1094.5 963.2L1095.9 963.4L1097.3 963.5L1098.7 963.7L1100.1 963.9L1101.5 964.1L1102.9 964.2L1104.3 964.4L1105.6 964.5L1107.0 964.7L1108.4 964.8L1109.8 964.9L1111.2 965.0L1112.6 965.2L1114.0 965.3L1115.4 965.4L1116.8 965.5L1118.2 965.6L1119.6 965.7L1121.0 965.8L1122.4 965.9L1123.8 966.0L1125.1 966.1L1126.5 966.2L1127.9 966.2L1129.3 966.3L1130.7 966.4L1132.1 966.5L1133.5 966.5L1134.9 966.6L1136.3 966.7L1137.7 966.7L1139.1 966.8L1140.5 966.8L1141.9 966.9L1143.3 966.9L1144.6 967.0L1146.0 967.0L1147.4 967.1L1148.8 967.1L1150.2 967.2L1151.6 967.2L1153.0 967.2L1154.4 967.3L1155.8 967.3L1157.2 967.3L1158.6 967.4L1160.0 967.4L1161.4 967.4L1162.7 967.5L1164.1 967.5L1165.5 967.5L1166.9 967.5L1168.3 967.6L1169.7 967.6L1171.1 967.6L1172.5 967.6L1173.9 967.6L1175.3 967.7L1176.7 967.7L1178.1 967.7L1179.5 967.7L1180.9 967.7L1182.2 967.7L1183.6 967.8L1185.0 967.8L1186.4 967.8L1187.8 967.8L1189.2 967.8L1190.6 967.8L1192.0 967.8L1193.4 967.8L1194.8 967.8L1196.2 967.8L1197.6 967.9L1199.0 967.9L1200.4 967.9L1201.7 967.9L1203.1 967.9L1204.5 967.9L1205.9 967.9L1207.3 967.9L1208.7 967.9L1210.1 967.9L1211.5 967.9L1212.9 967.9L1214.3 967.9L1215.7 967.9L1217.1 967.9L1218.5 967.9L1219.9 967.9L1221.2 967.9L1222.6 967.9L1224.0 968.0L1225.4 968.0L1226.8 968.0L1228.2 968.0L1229.6 968.0L1231.0 968.0L1232.4 968.0L1233.8 968.0L1235.2 968.0L1236.6 968.0L1238.0 968.0L1239.4 968.0L1240.7 968.0L1242.1 968.0L1243.5 968.0L1244.9 968.0L1246.3 968.0L1247.7 968.0L1249.1 968.0L1250.5 968.0L1251.9 968.0L1253.3 968.0L1254.7 968.0L1256.1 968.0L1257.5 968.0L1258.8 968.0L1260.2 968.0L1261.6 968.0L1263.0 968.0L1264.4 968.0L1265.8 968.0L1267.2 968.0L1268.6 968.0L1270.0 968.0L1271.4 968.0L1272.8 968.0L1274.2 968.0L1275.6 968.0L1277.0 968.0L1278.3 968.0L1279.7 968.0L1281.1 968.0L1282.5 968.0L1283.9 968.0L1285.3 968.0L1286.7 968.0L1288.1 968.0L1289.5 968.0L1290.9 968.0L1292.3 968.0L1293.7 968.0L1295.1 968.0L1296.5 968.0L1297.8 968.0L1299.2 968.0L1300.6 968.0L1302.0 968.0L1303.4 968.0L1304.8 968.0L1306.2 968.0L1307.6 968.0L1309.0 968.0L1310.4 968.0L1311.8 968.0L1313.2 968.0L1314.6 968.0L1316.0 968.0L1317.3 968.0L1318.7 968.0L1320.1 968.0L1321.5 968.0L1322.9 968.0L1324.3 968.0L1325.7 968.0L1327.1 968.0L1328.5 968.0L1329.9 968.0L1331.3 968.0L1332.7 968.0L1334.1 968.0L1335.4 968.0L1336.8 968.0L1338.2 968.0L1339.6 968.0L1341.0 968.0L1342.4 968.0L1343.8 968.0L1345.2 968.0L1346.6 968.0L1348.0 968.0L1349.4 968.0L1350.8 968.0L1352.2 968.0L1353.6 968.0L1354.9 968.0L1356.3 968.0L1357.7 968.0L1359.1 968.0L1360.5 968.0L1361.9 968.0L1363.3 968.0L1364.7 968.0L1366.1 968.0L1367.5 968.0L1368.9 968.0L1370.3 968.0L1371.7 968.0L1373.1 968.0L1374.4 968.0L1375.8 968.0L1377.2 968.0L1378.6 968.0L1380.0 968.0L1381.4 968.0L1382.8 968.0L1384.2 968.0L1385.6 968.0L1387.0 968.0L1388.4 968.0L1389.8 968.0L1391.2 968.0L1392.6 968.0L1393.9 968.0L1395.3 968.0L1396.7 968.0L1398.1 968.0L1399.5 968.0L1400.9 968.0L1402.3 968.0L1403.7 968.0L1405.1 968.0L1406.5 968.0L1407.9 968.0L1409.3 968.0L1410.7 968.0L1412.1 968.0L1413.4 968.0L1414.8 968.0L1416.2 968.0L1417.6 968.0L1419.0 968.0L1420.4 968.0L1421.8 968.0L1423.2 968.0L1424.6 968.0L1426.0 968.0L1427.4 968.0L1428.8 968.0L1430.2 968.0L1431.5 968.0L1432.9 968.0L1434.3 968.0L1435.7 968.0L1437.1 968.0L1438.5 968.0L1439.9 968.0L1441.3 968.0L1442.7 968.0L1444.1 968.0L1445.5 968.0L1446.9 968.0L1448.3 968.0L1449.7 968.0L1451.0 968.0L1452.4 968.0L1453.8 968.0L1455.2 968.0L1456.6 968.0L1458.0 968.0L1459.4 968.0L1460.8 968.0L1462.2 968.0L1463.6 968.0L1465.0 968.0L1466.4 968.0L1467.8 968.0L1469.2 968.0L1470.5 968.0L1471.9 968.0L1473.3 968.0L1474.7 968.0L1476.1 968.0L1477.5 968.0L1478.9 968.0L1480.3 968.0L1481.7 968.0L1483.1 968.0L1484.5 968.0L1485.9 968.0L1487.3 968.0L1488.7 968.0L1490.0 968.0L1491.4 968.0L1492.8 968.0L1494.2 968.0L1495.6 968.0L1497.0 968.0L1498.4 968.0L1499.8 968.0L1501.2 968.0L1502.6 968.0L1504.0 968.0L1505.4 968.0L1506.8 968.0L1508.2 968.0L1509.5 968.0L1510.9 968.0L1512.3 968.0L1513.7 968.0L1515.1 968.0L1516.5 968.0L1517.9 968.0" stroke="#f00000" stroke-width="4.5" fill="none" stroke-linejoin="round" stroke-dasharray="14 16.48" stroke-dashoffset="0.75"/>
<path d="M403.7 968.0L405.1 968.0L406.5 968.0L407.9 968.0L409.3 968.0L410.7 968.0L412.1 968.0L413.4 968.0L414.8 968.0L416.2 968.0L417.6 968.0L419.0 968.0L420.4 968.0L421.8 968.0L423.2 968.0L424.6 968.0L426.0 968.0L427.4 968.0L428.8 968.0L430.2 968.0L431.6 968.0L432.9 968.0L434.3 968.0L435.7 968.0L437.1 968.0L438.5 968.0L439.9 968.0L441.3 968.0L442.7 968.0L444.1 968.0L445.5 968.0L446.9 968.0L448.3 968.0L449.7 968.0L451.1 968.0L452.4 968.0L453.8 968.0L455.2 968.0L456.6 968.0L458.0 968.0L459.4 968.0L460.8 968.0L462.2 968.0L463.6 968.0L465.0 968.0L466.4 968.0L467.8 968.0L469.2 968.0L470.6 968.0L471.9 968.0L473.3 968.0L474.7 968.0L476.1 968.0L477.5 968.0L478.9 968.0L480.3 968.0L481.7 968.0L483.1 968.0L484.5 968.0L485.9 968.0L487.3 968.0L488.7 968.0L490.1 968.0L491.4 968.0L492.8 968.0L494.2 968.0L495.6 968.0L497.0 968.0L498.4 968.0L499.8 968.0L501.2 968.0L502.6 968.0L504.0 968.0L505.4 968.0L506.8 968.0L508.2 968.0L509.5 968.0L510.9 968.0L512.3 968.0L513.7 968.0L515.1 968.0L516.5 968.0L517.9 968.0L519.3 968.0L520.7 968.0L522.1 968.0L523.5 968.0L524.9 968.0L526.3 968.0L527.7 968.0L529.0 968.0L530.4 968.0L531.8 968.0L533.2 968.0L534.6 968.0L536.0 968.0L537.4 968.0L538.8 968.0L540.2 968.0L541.6 968.0L543.0 968.0L544.4 968.0L545.8 968.0L547.2 968.0L548.5 968.0L549.9 968.0L551.3 968.0L552.7 968.0L554.1 968.0L555.5 968.0L556.9 968.0L558.3 968.0L559.7 968.0L561.1 968.0L562.5 968.0L563.9 968.0L565.3 968.0L566.7 968.0L568.0 968.0L569.4 968.0L570.8 968.0L572.2 968.0L573.6 968.0L575.0 968.0L576.4 968.0L577.8 968.0L579.2 968.0L580.6 968.0L582.0 968.0L583.4 968.0L584.8 968.0L586.2 968.0L587.5 968.0L588.9 968.0L590.3 968.0L591.7 968.0L593.1 968.0L594.5 968.0L595.9 968.0L597.3 968.0L598.7 968.0L600.1 968.0L601.5 968.0L602.9 968.0L604.3 968.0L605.6 968.0L607.0 968.0L608.4 968.0L609.8 968.0L611.2 968.0L612.6 968.0L614.0 968.0L615.4 968.0L616.8 968.0L618.2 968.0L619.6 968.0L621.0 968.0L622.4 968.0L623.8 968.0L625.1 968.0L626.5 968.0L627.9 968.0L629.3 968.0L630.7 968.0L632.1 968.0L633.5 968.0L634.9 968.0L636.3 968.0L637.7 968.0L639.1 968.0L640.5 968.0L641.9 968.0L643.3 968.0L644.6 968.0L646.0 968.0L647.4 968.0L648.8 968.0L650.2 968.0L651.6 968.0L653.0 968.0L654.4 968.0L655.8 968.0L657.2 968.0L658.6 968.0L660.0 968.0L661.4 968.0L662.8 968.0L664.1 968.0L665.5 968.0L666.9 968.0L668.3 968.0L669.7 968.0L671.1 968.0L672.5 968.0L673.9 968.0L675.3 968.0L676.7 968.0L678.1 968.0L679.5 968.0L680.9 968.0L682.2 968.0L683.6 968.0L685.0 968.0L686.4 968.0L687.8 968.0L689.2 968.0L690.6 968.0L692.0 968.0L693.4 968.0L694.8 968.0L696.2 968.0L697.6 968.0L699.0 968.0L700.4 968.0L701.7 968.0L703.1 968.0L704.5 968.0L705.9 968.0L707.3 968.0L708.7 968.0L710.1 968.0L711.5 968.0L712.9 968.0L714.3 968.0L715.7 968.0L717.1 968.0L718.5 968.0L719.9 968.0L721.2 968.0L722.6 968.0L724.0 968.0L725.4 968.0L726.8 968.0L728.2 968.0L729.6 968.0L731.0 968.0L732.4 968.0L733.8 968.0L735.2 968.0L736.6 967.9L738.0 967.9L739.4 967.9L740.7 967.9L742.1 967.9L743.5 967.9L744.9 967.9L746.3 967.9L747.7 967.9L749.1 967.9L750.5 967.9L751.9 967.9L753.3 967.9L754.7 967.9L756.1 967.9L757.5 967.9L758.9 967.9L760.2 967.9L761.6 967.9L763.0 967.8L764.4 967.8L765.8 967.8L767.2 967.8L768.6 967.8L770.0 967.8L771.4 967.8L772.8 967.8L774.2 967.8L775.6 967.8L777.0 967.7L778.3 967.7L779.7 967.7L781.1 967.7L782.5 967.7L783.9 967.7L785.3 967.6L786.7 967.6L788.1 967.6L789.5 967.6L790.9 967.6L792.3 967.5L793.7 967.5L795.1 967.5L796.5 967.5L797.8 967.4L799.2 967.4L800.6 967.4L802.0 967.3L803.4 967.3L804.8 967.3L806.2 967.2L807.6 967.2L809.0 967.2L810.4 967.1L811.8 967.1L813.2 967.0L814.6 967.0L816.0 966.9L817.3 966.9L818.7 966.8L820.1 966.8L821.5 966.7L822.9 966.7L824.3 966.6L825.7 966.5L827.1 966.5L828.5 966.4L829.9 966.3L831.3 966.2L832.7 966.2L834.1 966.1L835.5 966.0L836.8 965.9L838.2 965.8L839.6 965.7L841.0 965.6L842.4 965.5L843.8 965.4L845.2 965.3L846.6 965.1L848.0 965.0L849.4 964.9L850.8 964.8L852.2 964.6L853.6 964.5L855.0 964.3L856.3 964.2L857.7 964.0L859.1 963.9L860.5 963.7L861.9 963.5L863.3 963.3L864.7 963.1L866.1 962.9L867.5 962.7L868.9 962.5L870.3 962.3L871.7 962.1L873.1 961.8L874.4 961.6L875.8 961.4L877.2 961.1L878.6 960.8L880.0 960.6L881.4 960.3L882.8 960.0L884.2 959.7L885.6 959.4L887.0 959.1L888.4 958.7L889.8 958.4L891.2 958.0L892.6 957.7L893.9 957.3L895.3 956.9L896.7 956.5L898.1 956.1L899.5 955.7L900.9 955.3L902.3 954.8L903.7 954.4L905.1 953.9L906.5 953.4L907.9 952.9L909.3 952.4L910.7 951.9L912.1 951.4L913.4 950.8L914.8 950.3L916.2 949.7L917.6 949.1L919.0 948.5L920.4 947.9L921.8 947.3L923.2 946.6L924.6 945.9L926.0 945.2L927.4 944.6L928.8 943.8L930.2 943.1L931.6 942.4L932.9 941.6L934.3 940.8L935.7 940.0L937.1 939.2L938.5 938.3L939.9 937.5L941.3 936.6L942.7 935.7L944.1 934.8L945.5 933.9L946.9 933.0L948.3 932.0L949.7 931.0L951.1 930.0L952.4 929.0L953.8 928.0L955.2 926.9L956.6 925.8L958.0 924.7L959.4 923.6L960.8 922.5L962.2 921.3L963.6 920.2L965.0 919.0L966.4 917.8L967.8 916.5L969.2 915.3L970.5 914.0L971.9 912.7L973.3 911.4L974.7 910.1L976.1 908.8L977.5 907.4L978.9 906.0L980.3 904.6L981.7 903.2L983.1 901.8L984.5 900.3L985.9 898.9L987.3 897.4L988.7 895.9L990.0 894.4L991.4 892.9L992.8 891.3L994.2 889.8L995.6 888.2L997.0 886.6L998.4 885.0L999.8 883.4L1001.2 881.7L1002.6 880.1L1004.0 878.5L1005.4 876.8L1006.8 875.1L1008.2 873.4L1009.5 871.7L1010.9 870.0L1012.3 868.3L1013.7 866.6L1015.1 864.8L1016.5 863.1L1017.9 861.3L1019.3 859.6L1020.7 857.8L1022.1 856.1L1023.5 854.3L1024.9 852.5L1026.3 850.7L1027.7 849.0L1029.0 847.2L1030.4 845.4L1031.8 843.6L1033.2 841.8L1034.6 840.1L1036.0 838.3L1037.4 836.5L1038.8 834.7L1040.2 833.0L1041.6 831.2L1043.0 829.5L1044.4 827.7L1045.8 826.0L1047.2 824.3L1048.5 822.5L1049.9 820.8L1051.3 819.1L1052.7 817.5L1054.1 815.8L1055.5 814.1L1056.9 812.5L1058.3 810.9L1059.7 809.3L1061.1 807.7L1062.5 806.1L1063.9 804.5L1065.3 803.0L1066.6 801.5L1068.0 800.0L1069.4 798.5L1070.8 797.1L1072.2 795.7L1073.6 794.3L1075.0 792.9L1076.4 791.5L1077.8 790.2L1079.2 788.9L1080.6 787.7L1082.0 786.5L1083.4 785.3L1084.8 784.1L1086.1 782.9L1087.5 781.8L1088.9 780.8L1090.3 779.7L1091.7 778.7L1093.1 777.8L1094.5 776.8L1095.9 775.9L1097.3 775.1L1098.7 774.2L1100.1 773.4L1101.5 772.7L1102.9 772.0L1104.3 771.3L1105.6 770.7L1107.0 770.1L1108.4 769.5L1109.8 769.0L1111.2 768.6L1112.6 768.1L1114.0 767.7L1115.4 767.4L1116.8 767.1L1118.2 766.8L1119.6 766.6L1121.0 766.4L1122.4 766.3L1123.8 766.2L1125.1 766.2L1126.5 766.2L1127.9 766.2L1129.3 766.3L1130.7 766.4L1132.1 766.6L1133.5 766.8L1134.9 767.0L1136.3 767.3L1137.7 767.6L1139.1 768.0L1140.5 768.4L1141.9 768.9L1143.3 769.4L1144.6 769.9L1146.0 770.5L1147.4 771.1L1148.8 771.8L1150.2 772.5L1151.6 773.2L1153.0 774.0L1154.4 774.8L1155.8 775.7L1157.2 776.5L1158.6 777.5L1160.0 778.4L1161.4 779.4L1162.7 780.5L1164.1 781.5L1165.5 782.6L1166.9 783.7L1168.3 784.9L1169.7 786.1L1171.1 787.3L1172.5 788.6L1173.9 789.8L1175.3 791.2L1176.7 792.5L1178.1 793.9L1179.5 795.2L1180.9 796.7L1182.2 798.1L1183.6 799.6L1185.0 801.0L1186.4 802.5L1187.8 804.1L1189.2 805.6L1190.6 807.2L1192.0 808.8L1193.4 810.4L1194.8 812.0L1196.2 813.6L1197.6 815.3L1199.0 817.0L1200.4 818.6L1201.7 820.3L1203.1 822.0L1204.5 823.7L1205.9 825.5L1207.3 827.2L1208.7 828.9L1210.1 830.7L1211.5 832.5L1212.9 834.2L1214.3 836.0L1215.7 837.8L1217.1 839.5L1218.5 841.3L1219.9 843.1L1221.2 844.9L1222.6 846.6L1224.0 848.4L1225.4 850.2L1226.8 852.0L1228.2 853.8L1229.6 855.5L1231.0 857.3L1232.4 859.1L1233.8 860.8L1235.2 862.6L1236.6 864.3L1238.0 866.0L1239.4 867.8L1240.7 869.5L1242.1 871.2L1243.5 872.9L1244.9 874.6L1246.3 876.3L1247.7 878.0L1249.1 879.6L1250.5 881.3L1251.9 882.9L1253.3 884.5L1254.7 886.1L1256.1 887.7L1257.5 889.3L1258.8 890.9L1260.2 892.4L1261.6 893.9L1263.0 895.5L1264.4 897.0L1265.8 898.4L1267.2 899.9L1268.6 901.4L1270.0 902.8L1271.4 904.2L1272.8 905.6L1274.2 907.0L1275.6 908.4L1277.0 909.7L1278.3 911.0L1279.7 912.3L1281.1 913.6L1282.5 914.9L1283.9 916.2L1285.3 917.4L1286.7 918.6L1288.1 919.8L1289.5 921.0L1290.9 922.1L1292.3 923.3L1293.7 924.4L1295.1 925.5L1296.5 926.6L1297.8 927.6L1299.2 928.7L1300.6 929.7L1302.0 930.7L1303.4 931.7L1304.8 932.7L1306.2 933.6L1307.6 934.5L1309.0 935.5L1310.4 936.4L1311.8 937.2L1313.2 938.1L1314.6 938.9L1316.0 939.8L1317.3 940.6L1318.7 941.4L1320.1 942.1L1321.5 942.9L1322.9 943.6L1324.3 944.3L1325.7 945.0L1327.1 945.7L1328.5 946.4L1329.9 947.1L1331.3 947.7L1332.7 948.3L1334.1 948.9L1335.4 949.5L1336.8 950.1L1338.2 950.7L1339.6 951.2L1341.0 951.8L1342.4 952.3L1343.8 952.8L1345.2 953.3L1346.6 953.8L1348.0 954.2L1349.4 954.7L1350.8 955.1L1352.2 955.6L1353.6 956.0L1354.9 956.4L1356.3 956.8L1357.7 957.2L1359.1 957.6L1360.5 957.9L1361.9 958.3L1363.3 958.6L1364.7 959.0L1366.1 959.3L1367.5 959.6L1368.9 959.9L1370.3 960.2L1371.7 960.5L1373.1 960.8L1374.4 961.0L1375.8 961.3L1377.2 961.5L1378.6 961.8L1380.0 962.0L1381.4 962.2L1382.8 962.5L1384.2 962.7L1385.6 962.9L1387.0 963.1L1388.4 963.3L1389.8 963.5L1391.2 963.6L1392.6 963.8L1393.9 964.0L1395.3 964.1L1396.7 964.3L1398.1 964.4L1399.5 964.6L1400.9 964.7L1402.3 964.9L1403.7 965.0L1405.1 965.1L1406.5 965.2L1407.9 965.3L1409.3 965.5L1410.7 965.6L1412.1 965.7L1413.4 965.8L1414.8 965.9L1416.2 966.0L1417.6 966.0L1419.0 966.1L1420.4 966.2L1421.8 966.3L1423.2 966.4L1424.6 966.4L1426.0 966.5L1427.4 966.6L1428.8 966.6L1430.2 966.7L1431.5 966.8L1432.9 966.8L1434.3 966.9L1435.7 966.9L1437.1 967.0L1438.5 967.0L1439.9 967.1L1441.3 967.1L1442.7 967.1L1444.1 967.2L1445.5 967.2L1446.9 967.3L1448.3 967.3L1449.7 967.3L1451.0 967.4L1452.4 967.4L1453.8 967.4L1455.2 967.5L1456.6 967.5L1458.0 967.5L1459.4 967.5L1460.8 967.6L1462.2 967.6L1463.6 967.6L1465.0 967.6L1466.4 967.6L1467.8 967.7L1469.2 967.7L1470.5 967.7L1471.9 967.7L1473.3 967.7L1474.7 967.7L1476.1 967.7L1477.5 967.8L1478.9 967.8L1480.3 967.8L1481.7 967.8L1483.1 967.8L1484.5 967.8L1485.9 967.8L1487.3 967.8L1488.7 967.8L1490.0 967.9L1491.4 967.9L1492.8 967.9L1494.2 967.9L1495.6 967.9L1497.0 967.9L1498.4 967.9L1499.8 967.9L1501.2 967.9L1502.6 967.9L1504.0 967.9L1505.4 967.9L1506.8 967.9L1508.2 967.9L1509.5 967.9L1510.9 967.9L1512.3 967.9L1513.7 967.9L1515.1 967.9L1516.5 968.0L1517.9 968.0" stroke="#0000f0" stroke-width="4.5" fill="none" stroke-linejoin="round" stroke-dasharray="14 16.48" stroke-dashoffset="0.75"/>
<path d="M403.7 968.0 L806.6 968.0 L814.6 838.2 L822.4 968.0 L1517.9 968.0" stroke="#f000f0" stroke-width="4.5" fill="none" stroke-linejoin="bevel"/>
<path d="M403.7 968.0 L1099.2 968.0 L1107.0 838.2 L1115.0 968.0 L1517.9 968.0" stroke="#10f010" stroke-width="4.5" fill="none" stroke-linejoin="bevel"/>
<path d="M403.7 937.7L405.1 937.9L406.5 938.1L407.9 938.3L409.3 938.4L410.7 938.6L412.1 938.7L413.4 938.9L414.8 939.0L416.2 939.2L417.6 939.3L419.0 939.5L420.4 939.6L421.8 939.8L423.2 939.9L424.6 940.0L426.0 940.2L427.4 940.3L428.8 940.4L430.2 940.5L431.6 940.7L432.9 940.8L434.3 940.9L435.7 941.0L437.1 941.1L438.5 941.2L439.9 941.3L441.3 941.5L442.7 941.6L444.1 941.7L445.5 941.8L446.9 941.9L448.3 942.0L449.7 942.1L451.1 942.1L452.4 942.2L453.8 942.3L455.2 942.4L456.6 942.5L458.0 942.6L459.4 942.7L460.8 942.8L462.2 942.8L463.6 942.9L465.0 943.0L466.4 943.1L467.8 943.1L469.2 943.2L470.6 943.3L471.9 943.3L473.3 943.4L474.7 943.5L476.1 943.5L477.5 943.6L478.9 943.7L480.3 943.7L481.7 943.8L483.1 943.8L484.5 943.9L485.9 943.9L487.3 944.0L488.7 944.0L490.1 944.1L491.4 944.1L492.8 944.2L494.2 944.2L495.6 944.3L497.0 944.3L498.4 944.4L499.8 944.4L501.2 944.4L502.6 944.5L504.0 944.5L505.4 944.5L506.8 944.6L508.2 944.6L509.5 944.6L510.9 944.7L512.3 944.7L513.7 944.7L515.1 944.7L516.5 944.8L517.9 944.8L519.3 944.8L520.7 944.8L522.1 944.9L523.5 944.9L524.9 944.9L526.3 944.9L527.7 944.9L529.0 944.9L530.4 944.9L531.8 945.0L533.2 945.0L534.6 945.0L536.0 945.0L537.4 945.0L538.8 945.0L540.2 945.0L541.6 945.0L543.0 945.0L544.4 945.0L545.8 945.0L547.2 945.0L548.5 945.0L549.9 945.0L551.3 945.0L552.7 945.0L554.1 945.0L555.5 944.9L556.9 944.9L558.3 944.9L559.7 944.9L561.1 944.9L562.5 944.9L563.9 944.9L565.3 944.8L566.7 944.8L568.0 944.8L569.4 944.8L570.8 944.7L572.2 944.7L573.6 944.7L575.0 944.7L576.4 944.6L577.8 944.6L579.2 944.6L580.6 944.5L582.0 944.5L583.4 944.5L584.8 944.4L586.2 944.4L587.5 944.4L588.9 944.3L590.3 944.3L591.7 944.2L593.1 944.2L594.5 944.1L595.9 944.1L597.3 944.0L598.7 944.0L600.1 943.9L601.5 943.9L602.9 943.8L604.3 943.8L605.6 943.7L607.0 943.7L608.4 943.6L609.8 943.5L611.2 943.5L612.6 943.4L614.0 943.3L615.4 943.3L616.8 943.2L618.2 943.1L619.6 943.1L621.0 943.0L622.4 942.9L623.8 942.8L625.1 942.8L626.5 942.7L627.9 942.6L629.3 942.5L630.7 942.4L632.1 942.3L633.5 942.2L634.9 942.1L636.3 942.1L637.7 942.0L639.1 941.9L640.5 941.8L641.9 941.7L643.3 941.6L644.6 941.5L646.0 941.3L647.4 941.2L648.8 941.1L650.2 941.0L651.6 940.9L653.0 940.8L654.4 940.7L655.8 940.5L657.2 940.4L658.6 940.3L660.0 940.2L661.4 940.0L662.8 939.9L664.1 939.8L665.5 939.6L666.9 939.5L668.3 939.3L669.7 939.2L671.1 939.0L672.5 938.9L673.9 938.7L675.3 938.6L676.7 938.4L678.1 938.3L679.5 938.1L680.9 937.9L682.2 937.7L683.6 937.6L685.0 937.4L686.4 937.2L687.8 937.0L689.2 936.8L690.6 936.7L692.0 936.5L693.4 936.3L694.8 936.1L696.2 935.9L697.6 935.7L699.0 935.4L700.4 935.2L701.7 935.0L703.1 934.8L704.5 934.6L705.9 934.3L707.3 934.1L708.7 933.9L710.1 933.6L711.5 933.4L712.9 933.1L714.3 932.9L715.7 932.6L717.1 932.3L718.5 932.1L719.9 931.8L721.2 931.5L722.6 931.2L724.0 930.9L725.4 930.6L726.8 930.3L728.2 930.0L729.6 929.7L731.0 929.4L732.4 929.1L733.8 928.7L735.2 928.4L736.6 928.1L738.0 927.7L739.4 927.4L740.7 927.0L742.1 926.6L743.5 926.3L744.9 925.9L746.3 925.5L747.7 925.1L749.1 924.7L750.5 924.3L751.9 923.9L753.3 923.4L754.7 923.0L756.1 922.5L757.5 922.1L758.9 921.6L760.2 921.2L761.6 920.7L763.0 920.2L764.4 919.7L765.8 919.2L767.2 918.6L768.6 918.1L770.0 917.6L771.4 917.0L772.8 916.5L774.2 915.9L775.6 915.3L777.0 914.7L778.3 914.1L779.7 913.4L781.1 912.8L782.5 912.1L783.9 911.5L785.3 910.8L786.7 910.1L788.1 909.4L789.5 908.7L790.9 907.9L792.3 907.1L793.7 906.4L795.1 905.6L796.5 904.8L797.8 903.9L799.2 903.1L800.6 902.2L802.0 901.3L803.4 900.4L804.8 899.5L806.2 898.5L807.6 897.5L809.0 896.5L810.4 895.5L811.8 894.5L813.2 893.4L814.6 892.3L816.0 891.2L817.3 890.0L818.7 888.8L820.1 887.6L821.5 886.4L822.9 885.1L824.3 883.8L825.7 882.5L827.1 881.1L828.5 879.7L829.9 878.2L831.3 876.8L832.7 875.2L834.1 873.7L835.5 872.1L836.8 870.4L838.2 868.7L839.6 867.0L841.0 865.2L842.4 863.4L843.8 861.5L845.2 859.6L846.6 857.6L848.0 855.6L849.4 853.5L850.8 851.3L852.2 849.1L853.6 846.8L855.0 844.5L856.3 842.1L857.7 839.6L859.1 837.1L860.5 834.5L861.9 831.8L863.3 829.0L864.7 826.1L866.1 823.2L867.5 820.1L868.9 817.0L870.3 813.8L871.7 810.5L873.1 807.1L874.4 803.6L875.8 800.0L877.2 796.3L878.6 792.4L880.0 788.5L881.4 784.4L882.8 780.2L884.2 775.9L885.6 771.5L887.0 766.9L888.4 762.2L889.8 757.3L891.2 752.3L892.6 747.2L893.9 741.9L895.3 736.5L896.7 730.9L898.1 725.1L899.5 719.2L900.9 713.1L902.3 706.9L903.7 700.4L905.1 693.9L906.5 687.1L907.9 680.2L909.3 673.1L910.7 665.9L912.1 658.5L913.4 651.0L914.8 643.2L916.2 635.4L917.6 627.4L919.0 619.3L920.4 611.0L921.8 602.7L923.2 594.2L924.6 585.7L926.0 577.1L927.4 568.5L928.8 559.8L930.2 551.2L931.6 542.5L932.9 534.0L934.3 525.5L935.7 517.1L937.1 508.9L938.5 500.9L939.9 493.0L941.3 485.5L942.7 478.2L944.1 471.3L945.5 464.8L946.9 458.6L948.3 453.0L949.7 447.8L951.1 443.1L952.4 439.0L953.8 435.5L955.2 432.5L956.6 430.2L958.0 428.6L959.4 427.6L960.8 427.3L962.2 427.6L963.6 428.6L965.0 430.2L966.4 432.5L967.8 435.5L969.2 439.0L970.5 443.1L971.9 447.8L973.3 453.0L974.7 458.6L976.1 464.8L977.5 471.3L978.9 478.2L980.3 485.5L981.7 493.0L983.1 500.9L984.5 508.9L985.9 517.1L987.3 525.5L988.7 534.0L990.0 542.5L991.4 551.2L992.8 559.8L994.2 568.5L995.6 577.1L997.0 585.7L998.4 594.2L999.8 602.7L1001.2 611.0L1002.6 619.3L1004.0 627.4L1005.4 635.4L1006.8 643.2L1008.2 651.0L1009.5 658.5L1010.9 665.9L1012.3 673.1L1013.7 680.2L1015.1 687.1L1016.5 693.9L1017.9 700.4L1019.3 706.9L1020.7 713.1L1022.1 719.2L1023.5 725.1L1024.9 730.9L1026.3 736.5L1027.7 741.9L1029.0 747.2L1030.4 752.3L1031.8 757.3L1033.2 762.2L1034.6 766.9L1036.0 771.5L1037.4 775.9L1038.8 780.2L1040.2 784.4L1041.6 788.5L1043.0 792.4L1044.4 796.3L1045.8 800.0L1047.2 803.6L1048.5 807.1L1049.9 810.5L1051.3 813.8L1052.7 817.0L1054.1 820.1L1055.5 823.2L1056.9 826.1L1058.3 829.0L1059.7 831.8L1061.1 834.5L1062.5 837.1L1063.9 839.6L1065.3 842.1L1066.6 844.5L1068.0 846.8L1069.4 849.1L1070.8 851.3L1072.2 853.5L1073.6 855.6L1075.0 857.6L1076.4 859.6L1077.8 861.5L1079.2 863.4L1080.6 865.2L1082.0 867.0L1083.4 868.7L1084.8 870.4L1086.1 872.1L1087.5 873.7L1088.9 875.2L1090.3 876.8L1091.7 878.2L1093.1 879.7L1094.5 881.1L1095.9 882.5L1097.3 883.8L1098.7 885.1L1100.1 886.4L1101.5 887.6L1102.9 888.8L1104.3 890.0L1105.6 891.2L1107.0 892.3L1108.4 893.4L1109.8 894.5L1111.2 895.5L1112.6 896.5L1114.0 897.5L1115.4 898.5L1116.8 899.5L1118.2 900.4L1119.6 901.3L1121.0 902.2L1122.4 903.1L1123.8 903.9L1125.1 904.8L1126.5 905.6L1127.9 906.4L1129.3 907.1L1130.7 907.9L1132.1 908.7L1133.5 909.4L1134.9 910.1L1136.3 910.8L1137.7 911.5L1139.1 912.1L1140.5 912.8L1141.9 913.4L1143.3 914.1L1144.6 914.7L1146.0 915.3L1147.4 915.9L1148.8 916.5L1150.2 917.0L1151.6 917.6L1153.0 918.1L1154.4 918.6L1155.8 919.2L1157.2 919.7L1158.6 920.2L1160.0 920.7L1161.4 921.2L1162.7 921.6L1164.1 922.1L1165.5 922.5L1166.9 923.0L1168.3 923.4L1169.7 923.9L1171.1 924.3L1172.5 924.7L1173.9 925.1L1175.3 925.5L1176.7 925.9L1178.1 926.3L1179.5 926.6L1180.9 927.0L1182.2 927.4L1183.6 927.7L1185.0 928.1L1186.4 928.4L1187.8 928.7L1189.2 929.1L1190.6 929.4L1192.0 929.7L1193.4 930.0L1194.8 930.3L1196.2 930.6L1197.6 930.9L1199.0 931.2L1200.4 931.5L1201.7 931.8L1203.1 932.1L1204.5 932.3L1205.9 932.6L1207.3 932.9L1208.7 933.1L1210.1 933.4L1211.5 933.6L1212.9 933.9L1214.3 934.1L1215.7 934.3L1217.1 934.6L1218.5 934.8L1219.9 935.0L1221.2 935.2L1222.6 935.4L1224.0 935.7L1225.4 935.9L1226.8 936.1L1228.2 936.3L1229.6 936.5L1231.0 936.7L1232.4 936.8L1233.8 937.0L1235.2 937.2L1236.6 937.4L1238.0 937.6L1239.4 937.7L1240.7 937.9L1242.1 938.1L1243.5 938.3L1244.9 938.4L1246.3 938.6L1247.7 938.7L1249.1 938.9L1250.5 939.0L1251.9 939.2L1253.3 939.3L1254.7 939.5L1256.1 939.6L1257.5 939.8L1258.8 939.9L1260.2 940.0L1261.6 940.2L1263.0 940.3L1264.4 940.4L1265.8 940.5L1267.2 940.7L1268.6 940.8L1270.0 940.9L1271.4 941.0L1272.8 941.1L1274.2 941.2L1275.6 941.3L1277.0 941.5L1278.3 941.6L1279.7 941.7L1281.1 941.8L1282.5 941.9L1283.9 942.0L1285.3 942.1L1286.7 942.1L1288.1 942.2L1289.5 942.3L1290.9 942.4L1292.3 942.5L1293.7 942.6L1295.1 942.7L1296.5 942.8L1297.8 942.8L1299.2 942.9L1300.6 943.0L1302.0 943.1L1303.4 943.1L1304.8 943.2L1306.2 943.3L1307.6 943.3L1309.0 943.4L1310.4 943.5L1311.8 943.5L1313.2 943.6L1314.6 943.7L1316.0 943.7L1317.3 943.8L1318.7 943.8L1320.1 943.9L1321.5 943.9L1322.9 944.0L1324.3 944.0L1325.7 944.1L1327.1 944.1L1328.5 944.2L1329.9 944.2L1331.3 944.3L1332.7 944.3L1334.1 944.4L1335.4 944.4L1336.8 944.4L1338.2 944.5L1339.6 944.5L1341.0 944.5L1342.4 944.6L1343.8 944.6L1345.2 944.6L1346.6 944.7L1348.0 944.7L1349.4 944.7L1350.8 944.7L1352.2 944.8L1353.6 944.8L1354.9 944.8L1356.3 944.8L1357.7 944.9L1359.1 944.9L1360.5 944.9L1361.9 944.9L1363.3 944.9L1364.7 944.9L1366.1 944.9L1367.5 945.0L1368.9 945.0L1370.3 945.0L1371.7 945.0L1373.1 945.0L1374.4 945.0L1375.8 945.0L1377.2 945.0L1378.6 945.0L1380.0 945.0L1381.4 945.0L1382.8 945.0L1384.2 945.0L1385.6 945.0L1387.0 945.0L1388.4 945.0L1389.8 945.0L1391.2 944.9L1392.6 944.9L1393.9 944.9L1395.3 944.9L1396.7 944.9L1398.1 944.9L1399.5 944.9L1400.9 944.8L1402.3 944.8L1403.7 944.8L1405.1 944.8L1406.5 944.7L1407.9 944.7L1409.3 944.7L1410.7 944.7L1412.1 944.6L1413.4 944.6L1414.8 944.6L1416.2 944.5L1417.6 944.5L1419.0 944.5L1420.4 944.4L1421.8 944.4L1423.2 944.4L1424.6 944.3L1426.0 944.3L1427.4 944.2L1428.8 944.2L1430.2 944.1L1431.5 944.1L1432.9 944.0L1434.3 944.0L1435.7 943.9L1437.1 943.9L1438.5 943.8L1439.9 943.8L1441.3 943.7L1442.7 943.7L1444.1 943.6L1445.5 943.5L1446.9 943.5L1448.3 943.4L1449.7 943.3L1451.0 943.3L1452.4 943.2L1453.8 943.1L1455.2 943.1L1456.6 943.0L1458.0 942.9L1459.4 942.8L1460.8 942.8L1462.2 942.7L1463.6 942.6L1465.0 942.5L1466.4 942.4L1467.8 942.3L1469.2 942.2L1470.5 942.1L1471.9 942.1L1473.3 942.0L1474.7 941.9L1476.1 941.8L1477.5 941.7L1478.9 941.6L1480.3 941.5L1481.7 941.3L1483.1 941.2L1484.5 941.1L1485.9 941.0L1487.3 940.9L1488.7 940.8L1490.0 940.7L1491.4 940.5L1492.8 940.4L1494.2 940.3L1495.6 940.2L1497.0 940.0L1498.4 939.9L1499.8 939.8L1501.2 939.6L1502.6 939.5L1504.0 939.3L1505.4 939.2L1506.8 939.0L1508.2 938.9L1509.5 938.7L1510.9 938.6L1512.3 938.4L1513.7 938.3L1515.1 938.1L1516.5 937.9L1517.9 937.7" stroke="#000" stroke-width="4.5" fill="none" stroke-linejoin="round"/>
<path d="M403.7 968.0L405.1 968.0L406.5 968.0L407.9 968.0L409.3 968.0L410.7 968.0L412.1 968.0L413.4 968.0L414.8 968.0L416.2 968.0L417.6 968.0L419.0 968.0L420.4 968.0L421.8 968.0L423.2 968.0L424.6 968.0L426.0 968.0L427.4 968.0L428.8 968.0L430.2 968.0L431.6 968.0L432.9 968.0L434.3 968.0L435.7 968.0L437.1 968.0L438.5 968.0L439.9 968.0L441.3 968.0L442.7 968.0L444.1 968.0L445.5 968.0L446.9 968.0L448.3 968.0L449.7 968.0L451.1 968.0L452.4 968.0L453.8 968.0L455.2 968.0L456.6 968.0L458.0 968.0L459.4 968.0L460.8 968.0L462.2 968.0L463.6 968.0L465.0 968.0L466.4 968.0L467.8 968.0L469.2 968.0L470.6 968.0L471.9 968.0L473.3 968.0L474.7 968.0L476.1 968.0L477.5 968.0L478.9 968.0L480.3 968.0L481.7 968.0L483.1 968.0L484.5 968.0L485.9 968.0L487.3 968.0L488.7 968.0L490.1 968.0L491.4 968.0L492.8 968.0L494.2 968.0L495.6 968.0L497.0 968.0L498.4 968.0L499.8 968.0L501.2 968.0L502.6 968.0L504.0 968.0L505.4 968.0L506.8 968.0L508.2 968.0L509.5 968.0L510.9 968.0L512.3 968.0L513.7 967.9L515.1 967.9L516.5 967.9L517.9 967.9L519.3 967.9L520.7 967.9L522.1 967.9L523.5 967.9L524.9 967.9L526.3 967.9L527.7 967.9L529.0 967.9L530.4 967.9L531.8 967.9L533.2 967.9L534.6 967.9L536.0 967.9L537.4 967.9L538.8 967.9L540.2 967.9L541.6 967.9L543.0 967.9L544.4 967.9L545.8 967.9L547.2 967.9L548.5 967.9L549.9 967.8L551.3 967.8L552.7 967.8L554.1 967.8L555.5 967.8L556.9 967.8L558.3 967.8L559.7 967.8L561.1 967.8L562.5 967.8L563.9 967.8L565.3 967.8L566.7 967.8L568.0 967.7L569.4 967.7L570.8 967.7L572.2 967.7L573.6 967.7L575.0 967.7L576.4 967.7L577.8 967.7L579.2 967.7L580.6 967.6L582.0 967.6L583.4 967.6L584.8 967.6L586.2 967.6L587.5 967.6L588.9 967.6L590.3 967.5L591.7 967.5L593.1 967.5L594.5 967.5L595.9 967.5L597.3 967.5L598.7 967.4L600.1 967.4L601.5 967.4L602.9 967.4L604.3 967.4L605.6 967.3L607.0 967.3L608.4 967.3L609.8 967.3L611.2 967.2L612.6 967.2L614.0 967.2L615.4 967.2L616.8 967.1L618.2 967.1L619.6 967.1L621.0 967.0L622.4 967.0L623.8 967.0L625.1 966.9L626.5 966.9L627.9 966.9L629.3 966.8L630.7 966.8L632.1 966.8L633.5 966.7L634.9 966.7L636.3 966.6L637.7 966.6L639.1 966.6L640.5 966.5L641.9 966.5L643.3 966.4L644.6 966.4L646.0 966.3L647.4 966.3L648.8 966.2L650.2 966.2L651.6 966.1L653.0 966.1L654.4 966.0L655.8 965.9L657.2 965.9L658.6 965.8L660.0 965.8L661.4 965.7L662.8 965.6L664.1 965.6L665.5 965.5L666.9 965.4L668.3 965.4L669.7 965.3L671.1 965.2L672.5 965.1L673.9 965.1L675.3 965.0L676.7 964.9L678.1 964.8L679.5 964.7L680.9 964.7L682.2 964.6L683.6 964.5L685.0 964.4L686.4 964.3L687.8 964.2L689.2 964.1L690.6 964.0L692.0 963.9L693.4 963.8L694.8 963.7L696.2 963.6L697.6 963.5L699.0 963.4L700.4 963.3L701.7 963.2L703.1 963.0L704.5 962.9L705.9 962.8L707.3 962.7L708.7 962.6L710.1 962.4L711.5 962.3L712.9 962.2L714.3 962.1L715.7 961.9L717.1 961.8L718.5 961.6L719.9 961.5L721.2 961.4L722.6 961.2L724.0 961.1L725.4 960.9L726.8 960.8L728.2 960.6L729.6 960.4L731.0 960.3L732.4 960.1L733.8 960.0L735.2 959.8L736.6 959.6L738.0 959.5L739.4 959.3L740.7 959.1L742.1 958.9L743.5 958.7L744.9 958.6L746.3 958.4L747.7 958.2L749.1 958.0L750.5 957.8L751.9 957.6L753.3 957.4L754.7 957.2L756.1 957.0L757.5 956.8L758.9 956.6L760.2 956.4L761.6 956.2L763.0 955.9L764.4 955.7L765.8 955.5L767.2 955.3L768.6 955.0L770.0 954.8L771.4 954.6L772.8 954.3L774.2 954.1L775.6 953.9L777.0 953.6L778.3 953.4L779.7 953.1L781.1 952.9L782.5 952.6L783.9 952.4L785.3 952.1L786.7 951.8L788.1 951.6L789.5 951.3L790.9 951.0L792.3 950.8L793.7 950.5L795.1 950.2L796.5 949.9L797.8 949.6L799.2 949.4L800.6 949.1L802.0 948.8L803.4 948.5L804.8 948.2L806.2 947.9L807.6 947.6L809.0 947.3L810.4 946.9L811.8 946.6L813.2 946.3L814.6 946.0L816.0 945.7L817.3 945.3L818.7 945.0L820.1 944.7L821.5 944.3L822.9 944.0L824.3 943.7L825.7 943.3L827.1 943.0L828.5 942.6L829.9 942.3L831.3 941.9L832.7 941.5L834.1 941.2L835.5 940.8L836.8 940.4L838.2 940.0L839.6 939.7L841.0 939.3L842.4 938.9L843.8 938.5L845.2 938.1L846.6 937.7L848.0 937.3L849.4 936.9L850.8 936.5L852.2 936.0L853.6 935.6L855.0 935.2L856.3 934.8L857.7 934.3L859.1 933.9L860.5 933.4L861.9 933.0L863.3 932.5L864.7 932.1L866.1 931.6L867.5 931.1L868.9 930.7L870.3 930.2L871.7 929.7L873.1 929.2L874.4 928.7L875.8 928.2L877.2 927.7L878.6 927.2L880.0 926.7L881.4 926.2L882.8 925.7L884.2 925.2L885.6 924.6L887.0 924.1L888.4 923.6L889.8 923.0L891.2 922.5L892.6 922.0L893.9 921.4L895.3 920.9L896.7 920.3L898.1 919.8L899.5 919.2L900.9 918.7L902.3 918.1L903.7 917.6L905.1 917.0L906.5 916.5L907.9 916.0L909.3 915.4L910.7 914.9L912.1 914.4L913.4 913.9L914.8 913.4L916.2 913.0L917.6 912.5L919.0 912.1L920.4 911.6L921.8 911.3L923.2 910.9L924.6 910.5L926.0 910.2L927.4 909.9L928.8 909.7L930.2 909.5L931.6 909.3L932.9 909.2L934.3 909.1L935.7 909.1L937.1 909.1L938.5 909.2L939.9 909.3L941.3 909.5L942.7 909.8L944.1 910.1L945.5 910.4L946.9 910.9L948.3 911.4L949.7 912.0L951.1 912.6L952.4 913.3L953.8 914.1L955.2 915.0L956.6 915.9L958.0 916.8L959.4 917.8L960.8 918.9L962.2 920.0L963.6 921.1L965.0 922.3L966.4 923.6L967.8 924.8L969.2 926.1L970.5 927.4L971.9 928.7L973.3 930.0L974.7 931.3L976.1 932.6L977.5 933.9L978.9 935.2L980.3 936.5L981.7 937.8L983.1 939.0L984.5 940.2L985.9 941.4L987.3 942.6L988.7 943.7L990.0 944.8L991.4 945.9L992.8 946.9L994.2 947.9L995.6 948.9L997.0 949.8L998.4 950.7L999.8 951.5L1001.2 952.4L1002.6 953.2L1004.0 953.9L1005.4 954.6L1006.8 955.3L1008.2 956.0L1009.5 956.6L1010.9 957.2L1012.3 957.8L1013.7 958.3L1015.1 958.8L1016.5 959.3L1017.9 959.8L1019.3 960.2L1020.7 960.6L1022.1 961.0L1023.5 961.4L1024.9 961.8L1026.3 962.1L1027.7 962.4L1029.0 962.7L1030.4 963.0L1031.8 963.3L1033.2 963.5L1034.6 963.8L1036.0 964.0L1037.4 964.2L1038.8 964.4L1040.2 964.6L1041.6 964.8L1043.0 965.0L1044.4 965.2L1045.8 965.3L1047.2 965.5L1048.5 965.6L1049.9 965.7L1051.3 965.9L1052.7 966.0L1054.1 966.1L1055.5 966.2L1056.9 966.3L1058.3 966.4L1059.7 966.5L1061.1 966.6L1062.5 966.6L1063.9 966.7L1065.3 966.8L1066.6 966.9L1068.0 966.9L1069.4 967.0L1070.8 967.0L1072.2 967.1L1073.6 967.1L1075.0 967.2L1076.4 967.2L1077.8 967.3L1079.2 967.3L1080.6 967.4L1082.0 967.4L1083.4 967.4L1084.8 967.5L1086.1 967.5L1087.5 967.5L1088.9 967.5L1090.3 967.6L1091.7 967.6L1093.1 967.6L1094.5 967.6L1095.9 967.7L1097.3 967.7L1098.7 967.7L1100.1 967.7L1101.5 967.7L1102.9 967.7L1104.3 967.8L1105.6 967.8L1107.0 967.8L1108.4 967.8L1109.8 967.8L1111.2 967.8L1112.6 967.8L1114.0 967.8L1115.4 967.9L1116.8 967.9L1118.2 967.9L1119.6 967.9L1121.0 967.9L1122.4 967.9L1123.8 967.9L1125.1 967.9L1126.5 967.9L1127.9 967.9L1129.3 967.9L1130.7 967.9L1132.1 967.9L1133.5 967.9L1134.9 967.9L1136.3 967.9L1137.7 967.9L1139.1 967.9L1140.5 967.9L1141.9 968.0L1143.3 968.0L1144.6 968.0L1146.0 968.0L1147.4 968.0L1148.8 968.0L1150.2 968.0L1151.6 968.0L1153.0 968.0L1154.4 968.0L1155.8 968.0L1157.2 968.0L1158.6 968.0L1160.0 968.0L1161.4 968.0L1162.7 968.0L1164.1 968.0L1165.5 968.0L1166.9 968.0L1168.3 968.0L1169.7 968.0L1171.1 968.0L1172.5 968.0L1173.9 968.0L1175.3 968.0L1176.7 968.0L1178.1 968.0L1179.5 968.0L1180.9 968.0L1182.2 968.0L1183.6 968.0L1185.0 968.0L1186.4 968.0L1187.8 968.0L1189.2 968.0L1190.6 968.0L1192.0 968.0L1193.4 968.0L1194.8 968.0L1196.2 968.0L1197.6 968.0L1199.0 968.0L1200.4 968.0L1201.7 968.0L1203.1 968.0L1204.5 968.0L1205.9 968.0L1207.3 968.0L1208.7 968.0L1210.1 968.0L1211.5 968.0L1212.9 968.0L1214.3 968.0L1215.7 968.0L1217.1 968.0L1218.5 968.0L1219.9 968.0L1221.2 968.0L1222.6 968.0L1224.0 968.0L1225.4 968.0L1226.8 968.0L1228.2 968.0L1229.6 968.0L1231.0 968.0L1232.4 968.0L1233.8 968.0L1235.2 968.0L1236.6 968.0L1238.0 968.0L1239.4 968.0L1240.7 968.0L1242.1 968.0L1243.5 968.0L1244.9 968.0L1246.3 968.0L1247.7 968.0L1249.1 968.0L1250.5 968.0L1251.9 968.0L1253.3 968.0L1254.7 968.0L1256.1 968.0L1257.5 968.0L1258.8 968.0L1260.2 968.0L1261.6 968.0L1263.0 968.0L1264.4 968.0L1265.8 968.0L1267.2 968.0L1268.6 968.0L1270.0 968.0L1271.4 968.0L1272.8 968.0L1274.2 968.0L1275.6 968.0L1277.0 968.0L1278.3 968.0L1279.7 968.0L1281.1 968.0L1282.5 968.0L1283.9 968.0L1285.3 968.0L1286.7 968.0L1288.1 968.0L1289.5 968.0L1290.9 968.0L1292.3 968.0L1293.7 968.0L1295.1 968.0L1296.5 968.0L1297.8 968.0L1299.2 968.0L1300.6 968.0L1302.0 968.0L1303.4 968.0L1304.8 968.0L1306.2 968.0L1307.6 968.0L1309.0 968.0L1310.4 968.0L1311.8 968.0L1313.2 968.0L1314.6 968.0L1316.0 968.0L1317.3 968.0L1318.7 968.0L1320.1 968.0L1321.5 968.0L1322.9 968.0L1324.3 968.0L1325.7 968.0L1327.1 968.0L1328.5 968.0L1329.9 968.0L1331.3 968.0L1332.7 968.0L1334.1 968.0L1335.4 968.0L1336.8 968.0L1338.2 968.0L1339.6 968.0L1341.0 968.0L1342.4 968.0L1343.8 968.0L1345.2 968.0L1346.6 968.0L1348.0 968.0L1349.4 968.0L1350.8 968.0L1352.2 968.0L1353.6 968.0L1354.9 968.0L1356.3 968.0L1357.7 968.0L1359.1 968.0L1360.5 968.0L1361.9 968.0L1363.3 968.0L1364.7 968.0L1366.1 968.0L1367.5 968.0L1368.9 968.0L1370.3 968.0L1371.7 968.0L1373.1 968.0L1374.4 968.0L1375.8 968.0L1377.2 968.0L1378.6 968.0L1380.0 968.0L1381.4 968.0L1382.8 968.0L1384.2 968.0L1385.6 968.0L1387.0 968.0L1388.4 968.0L1389.8 968.0L1391.2 968.0L1392.6 968.0L1393.9 968.0L1395.3 968.0L1396.7 968.0L1398.1 968.0L1399.5 968.0L1400.9 968.0L1402.3 968.0L1403.7 968.0L1405.1 968.0L1406.5 968.0L1407.9 968.0L1409.3 968.0L1410.7 968.0L1412.1 968.0L1413.4 968.0L1414.8 968.0L1416.2 968.0L1417.6 968.0L1419.0 968.0L1420.4 968.0L1421.8 968.0L1423.2 968.0L1424.6 968.0L1426.0 968.0L1427.4 968.0L1428.8 968.0L1430.2 968.0L1431.5 968.0L1432.9 968.0L1434.3 968.0L1435.7 968.0L1437.1 968.0L1438.5 968.0L1439.9 968.0L1441.3 968.0L1442.7 968.0L1444.1 968.0L1445.5 968.0L1446.9 968.0L1448.3 968.0L1449.7 968.0L1451.0 968.0L1452.4 968.0L1453.8 968.0L1455.2 968.0L1456.6 968.0L1458.0 968.0L1459.4 968.0L1460.8 968.0L1462.2 968.0L1463.6 968.0L1465.0 968.0L1466.4 968.0L1467.8 968.0L1469.2 968.0L1470.5 968.0L1471.9 968.0L1473.3 968.0L1474.7 968.0L1476.1 968.0L1477.5 968.0L1478.9 968.0L1480.3 968.0L1481.7 968.0L1483.1 968.0L1484.5 968.0L1485.9 968.0L1487.3 968.0L1488.7 968.0L1490.0 968.0L1491.4 968.0L1492.8 968.0L1494.2 968.0L1495.6 968.0L1497.0 968.0L1498.4 968.0L1499.8 968.0L1501.2 968.0L1502.6 968.0L1504.0 968.0L1505.4 968.0L1506.8 968.0L1508.2 968.0L1509.5 968.0L1510.9 968.0L1512.3 968.0L1513.7 968.0L1515.1 968.0L1516.5 968.0L1517.9 968.0" stroke="#f00000" stroke-width="4.5" fill="none" stroke-linejoin="round" stroke-dasharray="3.4 4.26"/>
<path d="M403.7 968.0L405.1 968.0L406.5 968.0L407.9 968.0L409.3 968.0L410.7 968.0L412.1 968.0L413.4 968.0L414.8 968.0L416.2 968.0L417.6 968.0L419.0 968.0L420.4 968.0L421.8 968.0L423.2 968.0L424.6 968.0L426.0 968.0L427.4 968.0L428.8 968.0L430.2 968.0L431.6 968.0L432.9 968.0L434.3 968.0L435.7 968.0L437.1 968.0L438.5 968.0L439.9 968.0L441.3 968.0L442.7 968.0L444.1 968.0L445.5 968.0L446.9 968.0L448.3 968.0L449.7 968.0L451.1 968.0L452.4 968.0L453.8 968.0L455.2 968.0L456.6 968.0L458.0 968.0L459.4 968.0L460.8 968.0L462.2 968.0L463.6 968.0L465.0 968.0L466.4 968.0L467.8 968.0L469.2 968.0L470.6 968.0L471.9 968.0L473.3 968.0L474.7 968.0L476.1 968.0L477.5 968.0L478.9 968.0L480.3 968.0L481.7 968.0L483.1 968.0L484.5 968.0L485.9 968.0L487.3 968.0L488.7 968.0L490.1 968.0L491.4 968.0L492.8 968.0L494.2 968.0L495.6 968.0L497.0 968.0L498.4 968.0L499.8 968.0L501.2 968.0L502.6 968.0L504.0 968.0L505.4 968.0L506.8 968.0L508.2 968.0L509.5 968.0L510.9 968.0L512.3 968.0L513.7 968.0L515.1 968.0L516.5 968.0L517.9 968.0L519.3 968.0L520.7 968.0L522.1 968.0L523.5 968.0L524.9 968.0L526.3 968.0L527.7 968.0L529.0 968.0L530.4 968.0L531.8 968.0L533.2 968.0L534.6 968.0L536.0 968.0L537.4 968.0L538.8 968.0L540.2 968.0L541.6 968.0L543.0 968.0L544.4 968.0L545.8 968.0L547.2 968.0L548.5 968.0L549.9 968.0L551.3 968.0L552.7 968.0L554.1 968.0L555.5 968.0L556.9 968.0L558.3 968.0L559.7 968.0L561.1 968.0L562.5 968.0L563.9 968.0L565.3 968.0L566.7 968.0L568.0 968.0L569.4 968.0L570.8 968.0L572.2 968.0L573.6 968.0L575.0 968.0L576.4 968.0L577.8 968.0L579.2 968.0L580.6 968.0L582.0 968.0L583.4 968.0L584.8 968.0L586.2 968.0L587.5 968.0L588.9 968.0L590.3 968.0L591.7 968.0L593.1 968.0L594.5 968.0L595.9 968.0L597.3 968.0L598.7 968.0L600.1 968.0L601.5 968.0L602.9 968.0L604.3 968.0L605.6 968.0L607.0 968.0L608.4 968.0L609.8 968.0L611.2 968.0L612.6 968.0L614.0 968.0L615.4 968.0L616.8 968.0L618.2 968.0L619.6 968.0L621.0 968.0L622.4 968.0L623.8 968.0L625.1 968.0L626.5 968.0L627.9 968.0L629.3 968.0L630.7 968.0L632.1 968.0L633.5 968.0L634.9 968.0L636.3 968.0L637.7 968.0L639.1 968.0L640.5 968.0L641.9 968.0L643.3 968.0L644.6 968.0L646.0 968.0L647.4 968.0L648.8 968.0L650.2 968.0L651.6 968.0L653.0 968.0L654.4 968.0L655.8 968.0L657.2 968.0L658.6 968.0L660.0 968.0L661.4 968.0L662.8 968.0L664.1 968.0L665.5 968.0L666.9 968.0L668.3 968.0L669.7 968.0L671.1 968.0L672.5 968.0L673.9 968.0L675.3 968.0L676.7 968.0L678.1 968.0L679.5 968.0L680.9 968.0L682.2 968.0L683.6 968.0L685.0 968.0L686.4 968.0L687.8 968.0L689.2 968.0L690.6 968.0L692.0 968.0L693.4 968.0L694.8 968.0L696.2 968.0L697.6 968.0L699.0 968.0L700.4 968.0L701.7 968.0L703.1 968.0L704.5 968.0L705.9 968.0L707.3 968.0L708.7 968.0L710.1 968.0L711.5 968.0L712.9 968.0L714.3 968.0L715.7 968.0L717.1 968.0L718.5 968.0L719.9 968.0L721.2 968.0L722.6 968.0L724.0 968.0L725.4 968.0L726.8 968.0L728.2 968.0L729.6 968.0L731.0 968.0L732.4 968.0L733.8 968.0L735.2 968.0L736.6 968.0L738.0 968.0L739.4 968.0L740.7 968.0L742.1 968.0L743.5 968.0L744.9 968.0L746.3 968.0L747.7 968.0L749.1 968.0L750.5 968.0L751.9 968.0L753.3 968.0L754.7 968.0L756.1 968.0L757.5 968.0L758.9 968.0L760.2 968.0L761.6 968.0L763.0 968.0L764.4 968.0L765.8 968.0L767.2 968.0L768.6 968.0L770.0 968.0L771.4 968.0L772.8 968.0L774.2 968.0L775.6 968.0L777.0 968.0L778.3 968.0L779.7 968.0L781.1 967.9L782.5 967.9L783.9 967.9L785.3 967.9L786.7 967.9L788.1 967.9L789.5 967.9L790.9 967.9L792.3 967.9L793.7 967.9L795.1 967.9L796.5 967.9L797.8 967.9L799.2 967.9L800.6 967.9L802.0 967.9L803.4 967.9L804.8 967.9L806.2 967.9L807.6 967.8L809.0 967.8L810.4 967.8L811.8 967.8L813.2 967.8L814.6 967.8L816.0 967.8L817.3 967.8L818.7 967.7L820.1 967.7L821.5 967.7L822.9 967.7L824.3 967.7L825.7 967.7L827.1 967.6L828.5 967.6L829.9 967.6L831.3 967.6L832.7 967.5L834.1 967.5L835.5 967.5L836.8 967.5L838.2 967.4L839.6 967.4L841.0 967.4L842.4 967.3L843.8 967.3L845.2 967.2L846.6 967.2L848.0 967.1L849.4 967.1L850.8 967.0L852.2 967.0L853.6 966.9L855.0 966.9L856.3 966.8L857.7 966.7L859.1 966.6L860.5 966.6L861.9 966.5L863.3 966.4L864.7 966.3L866.1 966.2L867.5 966.1L868.9 966.0L870.3 965.9L871.7 965.7L873.1 965.6L874.4 965.5L875.8 965.3L877.2 965.2L878.6 965.0L880.0 964.8L881.4 964.6L882.8 964.4L884.2 964.2L885.6 964.0L887.0 963.8L888.4 963.5L889.8 963.3L891.2 963.0L892.6 962.7L893.9 962.4L895.3 962.1L896.7 961.8L898.1 961.4L899.5 961.0L900.9 960.6L902.3 960.2L903.7 959.8L905.1 959.3L906.5 958.8L907.9 958.3L909.3 957.8L910.7 957.2L912.1 956.6L913.4 956.0L914.8 955.3L916.2 954.6L917.6 953.9L919.0 953.2L920.4 952.4L921.8 951.5L923.2 950.7L924.6 949.8L926.0 948.9L927.4 947.9L928.8 946.9L930.2 945.9L931.6 944.8L932.9 943.7L934.3 942.6L935.7 941.4L937.1 940.2L938.5 939.0L939.9 937.8L941.3 936.5L942.7 935.2L944.1 933.9L945.5 932.6L946.9 931.3L948.3 930.0L949.7 928.7L951.1 927.4L952.4 926.1L953.8 924.8L955.2 923.6L956.6 922.3L958.0 921.1L959.4 920.0L960.8 918.9L962.2 917.8L963.6 916.8L965.0 915.9L966.4 915.0L967.8 914.1L969.2 913.3L970.5 912.6L971.9 912.0L973.3 911.4L974.7 910.9L976.1 910.4L977.5 910.1L978.9 909.8L980.3 909.5L981.7 909.3L983.1 909.2L984.5 909.1L985.9 909.1L987.3 909.1L988.7 909.2L990.0 909.3L991.4 909.5L992.8 909.7L994.2 909.9L995.6 910.2L997.0 910.5L998.4 910.9L999.8 911.3L1001.2 911.6L1002.6 912.1L1004.0 912.5L1005.4 913.0L1006.8 913.4L1008.2 913.9L1009.5 914.4L1010.9 914.9L1012.3 915.4L1013.7 916.0L1015.1 916.5L1016.5 917.0L1017.9 917.6L1019.3 918.1L1020.7 918.7L1022.1 919.2L1023.5 919.8L1024.9 920.3L1026.3 920.9L1027.7 921.4L1029.0 922.0L1030.4 922.5L1031.8 923.0L1033.2 923.6L1034.6 924.1L1036.0 924.6L1037.4 925.2L1038.8 925.7L1040.2 926.2L1041.6 926.7L1043.0 927.2L1044.4 927.7L1045.8 928.2L1047.2 928.7L1048.5 929.2L1049.9 929.7L1051.3 930.2L1052.7 930.7L1054.1 931.1L1055.5 931.6L1056.9 932.1L1058.3 932.5L1059.7 933.0L1061.1 933.4L1062.5 933.9L1063.9 934.3L1065.3 934.8L1066.6 935.2L1068.0 935.6L1069.4 936.0L1070.8 936.5L1072.2 936.9L1073.6 937.3L1075.0 937.7L1076.4 938.1L1077.8 938.5L1079.2 938.9L1080.6 939.3L1082.0 939.7L1083.4 940.0L1084.8 940.4L1086.1 940.8L1087.5 941.2L1088.9 941.5L1090.3 941.9L1091.7 942.3L1093.1 942.6L1094.5 943.0L1095.9 943.3L1097.3 943.7L1098.7 944.0L1100.1 944.3L1101.5 944.7L1102.9 945.0L1104.3 945.3L1105.6 945.7L1107.0 946.0L1108.4 946.3L1109.8 946.6L1111.2 946.9L1112.6 947.3L1114.0 947.6L1115.4 947.9L1116.8 948.2L1118.2 948.5L1119.6 948.8L1121.0 949.1L1122.4 949.4L1123.8 949.6L1125.1 949.9L1126.5 950.2L1127.9 950.5L1129.3 950.8L1130.7 951.0L1132.1 951.3L1133.5 951.6L1134.9 951.8L1136.3 952.1L1137.7 952.4L1139.1 952.6L1140.5 952.9L1141.9 953.1L1143.3 953.4L1144.6 953.6L1146.0 953.9L1147.4 954.1L1148.8 954.3L1150.2 954.6L1151.6 954.8L1153.0 955.0L1154.4 955.3L1155.8 955.5L1157.2 955.7L1158.6 955.9L1160.0 956.2L1161.4 956.4L1162.7 956.6L1164.1 956.8L1165.5 957.0L1166.9 957.2L1168.3 957.4L1169.7 957.6L1171.1 957.8L1172.5 958.0L1173.9 958.2L1175.3 958.4L1176.7 958.6L1178.1 958.7L1179.5 958.9L1180.9 959.1L1182.2 959.3L1183.6 959.5L1185.0 959.6L1186.4 959.8L1187.8 960.0L1189.2 960.1L1190.6 960.3L1192.0 960.4L1193.4 960.6L1194.8 960.8L1196.2 960.9L1197.6 961.1L1199.0 961.2L1200.4 961.4L1201.7 961.5L1203.1 961.6L1204.5 961.8L1205.9 961.9L1207.3 962.1L1208.7 962.2L1210.1 962.3L1211.5 962.4L1212.9 962.6L1214.3 962.7L1215.7 962.8L1217.1 962.9L1218.5 963.0L1219.9 963.2L1221.2 963.3L1222.6 963.4L1224.0 963.5L1225.4 963.6L1226.8 963.7L1228.2 963.8L1229.6 963.9L1231.0 964.0L1232.4 964.1L1233.8 964.2L1235.2 964.3L1236.6 964.4L1238.0 964.5L1239.4 964.6L1240.7 964.7L1242.1 964.7L1243.5 964.8L1244.9 964.9L1246.3 965.0L1247.7 965.1L1249.1 965.1L1250.5 965.2L1251.9 965.3L1253.3 965.4L1254.7 965.4L1256.1 965.5L1257.5 965.6L1258.8 965.6L1260.2 965.7L1261.6 965.8L1263.0 965.8L1264.4 965.9L1265.8 965.9L1267.2 966.0L1268.6 966.1L1270.0 966.1L1271.4 966.2L1272.8 966.2L1274.2 966.3L1275.6 966.3L1277.0 966.4L1278.3 966.4L1279.7 966.5L1281.1 966.5L1282.5 966.6L1283.9 966.6L1285.3 966.6L1286.7 966.7L1288.1 966.7L1289.5 966.8L1290.9 966.8L1292.3 966.8L1293.7 966.9L1295.1 966.9L1296.5 966.9L1297.8 967.0L1299.2 967.0L1300.6 967.0L1302.0 967.1L1303.4 967.1L1304.8 967.1L1306.2 967.2L1307.6 967.2L1309.0 967.2L1310.4 967.2L1311.8 967.3L1313.2 967.3L1314.6 967.3L1316.0 967.3L1317.3 967.4L1318.7 967.4L1320.1 967.4L1321.5 967.4L1322.9 967.4L1324.3 967.5L1325.7 967.5L1327.1 967.5L1328.5 967.5L1329.9 967.5L1331.3 967.5L1332.7 967.6L1334.1 967.6L1335.4 967.6L1336.8 967.6L1338.2 967.6L1339.6 967.6L1341.0 967.6L1342.4 967.7L1343.8 967.7L1345.2 967.7L1346.6 967.7L1348.0 967.7L1349.4 967.7L1350.8 967.7L1352.2 967.7L1353.6 967.7L1354.9 967.8L1356.3 967.8L1357.7 967.8L1359.1 967.8L1360.5 967.8L1361.9 967.8L1363.3 967.8L1364.7 967.8L1366.1 967.8L1367.5 967.8L1368.9 967.8L1370.3 967.8L1371.7 967.8L1373.1 967.9L1374.4 967.9L1375.8 967.9L1377.2 967.9L1378.6 967.9L1380.0 967.9L1381.4 967.9L1382.8 967.9L1384.2 967.9L1385.6 967.9L1387.0 967.9L1388.4 967.9L1389.8 967.9L1391.2 967.9L1392.6 967.9L1393.9 967.9L1395.3 967.9L1396.7 967.9L1398.1 967.9L1399.5 967.9L1400.9 967.9L1402.3 967.9L1403.7 967.9L1405.1 967.9L1406.5 967.9L1407.9 967.9L1409.3 968.0L1410.7 968.0L1412.1 968.0L1413.4 968.0L1414.8 968.0L1416.2 968.0L1417.6 968.0L1419.0 968.0L1420.4 968.0L1421.8 968.0L1423.2 968.0L1424.6 968.0L1426.0 968.0L1427.4 968.0L1428.8 968.0L1430.2 968.0L1431.5 968.0L1432.9 968.0L1434.3 968.0L1435.7 968.0L1437.1 968.0L1438.5 968.0L1439.9 968.0L1441.3 968.0L1442.7 968.0L1444.1 968.0L1445.5 968.0L1446.9 968.0L1448.3 968.0L1449.7 968.0L1451.0 968.0L1452.4 968.0L1453.8 968.0L1455.2 968.0L1456.6 968.0L1458.0 968.0L1459.4 968.0L1460.8 968.0L1462.2 968.0L1463.6 968.0L1465.0 968.0L1466.4 968.0L1467.8 968.0L1469.2 968.0L1470.5 968.0L1471.9 968.0L1473.3 968.0L1474.7 968.0L1476.1 968.0L1477.5 968.0L1478.9 968.0L1480.3 968.0L1481.7 968.0L1483.1 968.0L1484.5 968.0L1485.9 968.0L1487.3 968.0L1488.7 968.0L1490.0 968.0L1491.4 968.0L1492.8 968.0L1494.2 968.0L1495.6 968.0L1497.0 968.0L1498.4 968.0L1499.8 968.0L1501.2 968.0L1502.6 968.0L1504.0 968.0L1505.4 968.0L1506.8 968.0L1508.2 968.0L1509.5 968.0L1510.9 968.0L1512.3 968.0L1513.7 968.0L1515.1 968.0L1516.5 968.0L1517.9 968.0" stroke="#0000f0" stroke-width="4.5" fill="none" stroke-linejoin="round" stroke-dasharray="3.4 4.26"/>
<path d="M403.7 968.0L405.1 968.0L406.5 968.0L407.9 968.0L409.3 968.0L410.7 968.0L412.1 968.0L413.4 968.0L414.8 968.0L416.2 968.0L417.6 968.0L419.0 968.0L420.4 968.0L421.8 968.0L423.2 968.0L424.6 968.0L426.0 968.0L427.4 968.0L428.8 968.0L430.2 968.0L431.6 968.0L432.9 968.0L434.3 968.0L435.7 968.0L437.1 968.0L438.5 968.0L439.9 968.0L441.3 968.0L442.7 968.0L444.1 968.0L445.5 968.0L446.9 968.0L448.3 968.0L449.7 968.0L451.1 968.0L452.4 968.0L453.8 968.0L455.2 968.0L456.6 968.0L458.0 968.0L459.4 968.0L460.8 968.0L462.2 968.0L463.6 968.0L465.0 968.0L466.4 968.0L467.8 968.0L469.2 968.0L470.6 968.0L471.9 968.0L473.3 968.0L474.7 968.0L476.1 968.0L477.5 968.0L478.9 968.0L480.3 968.0L481.7 968.0L483.1 968.0L484.5 968.0L485.9 968.0L487.3 968.0L488.7 968.0L490.1 968.0L491.4 968.0L492.8 968.0L494.2 968.0L495.6 968.0L497.0 968.0L498.4 968.0L499.8 968.0L501.2 968.0L502.6 968.0L504.0 968.0L505.4 968.0L506.8 968.0L508.2 968.0L509.5 968.0L510.9 968.0L512.3 968.0L513.7 968.0L515.1 968.0L516.5 968.0L517.9 968.0L519.3 968.0L520.7 968.0L522.1 968.0L523.5 968.0L524.9 968.0L526.3 968.0L527.7 968.0L529.0 968.0L530.4 968.0L531.8 968.0L533.2 967.9L534.6 967.9L536.0 967.9L537.4 967.9L538.8 967.9L540.2 967.9L541.6 967.9L543.0 967.9L544.4 967.9L545.8 967.9L547.2 967.9L548.5 967.9L549.9 967.9L551.3 967.9L552.7 967.9L554.1 967.9L555.5 967.9L556.9 967.9L558.3 967.9L559.7 967.9L561.1 967.9L562.5 967.9L563.9 967.9L565.3 967.9L566.7 967.9L568.0 967.9L569.4 967.8L570.8 967.8L572.2 967.8L573.6 967.8L575.0 967.8L576.4 967.8L577.8 967.8L579.2 967.8L580.6 967.8L582.0 967.8L583.4 967.8L584.8 967.8L586.2 967.8L587.5 967.7L588.9 967.7L590.3 967.7L591.7 967.7L593.1 967.7L594.5 967.7L595.9 967.7L597.3 967.7L598.7 967.6L600.1 967.6L601.5 967.6L602.9 967.6L604.3 967.6L605.6 967.6L607.0 967.6L608.4 967.5L609.8 967.5L611.2 967.5L612.6 967.5L614.0 967.5L615.4 967.5L616.8 967.4L618.2 967.4L619.6 967.4L621.0 967.4L622.4 967.3L623.8 967.3L625.1 967.3L626.5 967.3L627.9 967.3L629.3 967.2L630.7 967.2L632.1 967.2L633.5 967.1L634.9 967.1L636.3 967.1L637.7 967.1L639.1 967.0L640.5 967.0L641.9 967.0L643.3 966.9L644.6 966.9L646.0 966.8L647.4 966.8L648.8 966.8L650.2 966.7L651.6 966.7L653.0 966.6L654.4 966.6L655.8 966.6L657.2 966.5L658.6 966.5L660.0 966.4L661.4 966.4L662.8 966.3L664.1 966.3L665.5 966.2L666.9 966.2L668.3 966.1L669.7 966.0L671.1 966.0L672.5 965.9L673.9 965.9L675.3 965.8L676.7 965.7L678.1 965.7L679.5 965.6L680.9 965.5L682.2 965.4L683.6 965.4L685.0 965.3L686.4 965.2L687.8 965.1L689.2 965.1L690.6 965.0L692.0 964.9L693.4 964.8L694.8 964.7L696.2 964.6L697.6 964.5L699.0 964.4L700.4 964.3L701.7 964.2L703.1 964.1L704.5 964.0L705.9 963.9L707.3 963.8L708.7 963.7L710.1 963.6L711.5 963.5L712.9 963.4L714.3 963.3L715.7 963.1L717.1 963.0L718.5 962.9L719.9 962.8L721.2 962.6L722.6 962.5L724.0 962.4L725.4 962.2L726.8 962.1L728.2 961.9L729.6 961.8L731.0 961.6L732.4 961.5L733.8 961.3L735.2 961.2L736.6 961.0L738.0 960.8L739.4 960.7L740.7 960.5L742.1 960.3L743.5 960.1L744.9 960.0L746.3 959.8L747.7 959.6L749.1 959.4L750.5 959.2L751.9 959.0L753.3 958.8L754.7 958.6L756.1 958.4L757.5 958.2L758.9 958.0L760.2 957.8L761.6 957.6L763.0 957.3L764.4 957.1L765.8 956.9L767.2 956.7L768.6 956.4L770.0 956.2L771.4 955.9L772.8 955.7L774.2 955.4L775.6 955.2L777.0 954.9L778.3 954.7L779.7 954.4L781.1 954.1L782.5 953.9L783.9 953.6L785.3 953.3L786.7 953.0L788.1 952.7L789.5 952.4L790.9 952.1L792.3 951.8L793.7 951.5L795.1 951.2L796.5 950.9L797.8 950.6L799.2 950.3L800.6 949.9L802.0 949.6L803.4 949.3L804.8 948.9L806.2 948.6L807.6 948.2L809.0 947.9L810.4 947.5L811.8 947.1L813.2 946.8L814.6 946.4L816.0 946.0L817.3 945.6L818.7 945.2L820.1 944.8L821.5 944.4L822.9 944.0L824.3 943.6L825.7 943.2L827.1 942.8L828.5 942.4L829.9 941.9L831.3 941.5L832.7 941.0L834.1 940.6L835.5 940.1L836.8 939.7L838.2 939.2L839.6 938.7L841.0 938.2L842.4 937.7L843.8 937.3L845.2 936.7L846.6 936.2L848.0 935.7L849.4 935.2L850.8 934.7L852.2 934.1L853.6 933.6L855.0 933.0L856.3 932.5L857.7 931.9L859.1 931.3L860.5 930.8L861.9 930.2L863.3 929.6L864.7 929.0L866.1 928.4L867.5 927.7L868.9 927.1L870.3 926.5L871.7 925.8L873.1 925.2L874.4 924.5L875.8 923.8L877.2 923.2L878.6 922.5L880.0 921.8L881.4 921.1L882.8 920.4L884.2 919.6L885.6 918.9L887.0 918.2L888.4 917.4L889.8 916.7L891.2 915.9L892.6 915.1L893.9 914.4L895.3 913.6L896.7 912.8L898.1 912.0L899.5 911.2L900.9 910.4L902.3 909.6L903.7 908.8L905.1 908.0L906.5 907.2L907.9 906.4L909.3 905.7L910.7 904.9L912.1 904.1L913.4 903.3L914.8 902.6L916.2 901.8L917.6 901.1L919.0 900.4L920.4 899.7L921.8 899.0L923.2 898.4L924.6 897.8L926.0 897.2L927.4 896.6L928.8 896.1L930.2 895.7L931.6 895.3L932.9 894.9L934.3 894.6L935.7 894.4L937.1 894.2L938.5 894.1L939.9 894.1L941.3 894.1L942.7 894.2L944.1 894.4L945.5 894.7L946.9 895.1L948.3 895.6L949.7 896.1L951.1 896.8L952.4 897.5L953.8 898.3L955.2 899.2L956.6 900.2L958.0 901.2L959.4 902.4L960.8 903.6L962.2 904.9L963.6 906.2L965.0 907.6L966.4 909.1L967.8 910.6L969.2 912.1L970.5 913.7L971.9 915.3L973.3 916.9L974.7 918.6L976.1 920.2L977.5 921.9L978.9 923.5L980.3 925.1L981.7 926.7L983.1 928.3L984.5 929.9L985.9 931.4L987.3 932.9L988.7 934.4L990.0 935.8L991.4 937.2L992.8 938.6L994.2 939.9L995.6 941.2L997.0 942.4L998.4 943.6L999.8 944.8L1001.2 945.9L1002.6 946.9L1004.0 947.9L1005.4 948.9L1006.8 949.8L1008.2 950.7L1009.5 951.6L1010.9 952.4L1012.3 953.2L1013.7 953.9L1015.1 954.7L1016.5 955.3L1017.9 956.0L1019.3 956.6L1020.7 957.2L1022.1 957.7L1023.5 958.3L1024.9 958.8L1026.3 959.2L1027.7 959.7L1029.0 960.1L1030.4 960.5L1031.8 960.9L1033.2 961.3L1034.6 961.6L1036.0 962.0L1037.4 962.3L1038.8 962.6L1040.2 962.9L1041.6 963.1L1043.0 963.4L1044.4 963.6L1045.8 963.9L1047.2 964.1L1048.5 964.3L1049.9 964.5L1051.3 964.7L1052.7 964.9L1054.1 965.0L1055.5 965.2L1056.9 965.3L1058.3 965.5L1059.7 965.6L1061.1 965.7L1062.5 965.9L1063.9 966.0L1065.3 966.1L1066.6 966.2L1068.0 966.3L1069.4 966.4L1070.8 966.5L1072.2 966.5L1073.6 966.6L1075.0 966.7L1076.4 966.8L1077.8 966.8L1079.2 966.9L1080.6 966.9L1082.0 967.0L1083.4 967.1L1084.8 967.1L1086.1 967.2L1087.5 967.2L1088.9 967.2L1090.3 967.3L1091.7 967.3L1093.1 967.4L1094.5 967.4L1095.9 967.4L1097.3 967.5L1098.7 967.5L1100.1 967.5L1101.5 967.5L1102.9 967.6L1104.3 967.6L1105.6 967.6L1107.0 967.6L1108.4 967.7L1109.8 967.7L1111.2 967.7L1112.6 967.7L1114.0 967.7L1115.4 967.7L1116.8 967.8L1118.2 967.8L1119.6 967.8L1121.0 967.8L1122.4 967.8L1123.8 967.8L1125.1 967.8L1126.5 967.8L1127.9 967.8L1129.3 967.9L1130.7 967.9L1132.1 967.9L1133.5 967.9L1134.9 967.9L1136.3 967.9L1137.7 967.9L1139.1 967.9L1140.5 967.9L1141.9 967.9L1143.3 967.9L1144.6 967.9L1146.0 967.9L1147.4 967.9L1148.8 967.9L1150.2 967.9L1151.6 967.9L1153.0 967.9L1154.4 967.9L1155.8 968.0L1157.2 968.0L1158.6 968.0L1160.0 968.0L1161.4 968.0L1162.7 968.0L1164.1 968.0L1165.5 968.0L1166.9 968.0L1168.3 968.0L1169.7 968.0L1171.1 968.0L1172.5 968.0L1173.9 968.0L1175.3 968.0L1176.7 968.0L1178.1 968.0L1179.5 968.0L1180.9 968.0L1182.2 968.0L1183.6 968.0L1185.0 968.0L1186.4 968.0L1187.8 968.0L1189.2 968.0L1190.6 968.0L1192.0 968.0L1193.4 968.0L1194.8 968.0L1196.2 968.0L1197.6 968.0L1199.0 968.0L1200.4 968.0L1201.7 968.0L1203.1 968.0L1204.5 968.0L1205.9 968.0L1207.3 968.0L1208.7 968.0L1210.1 968.0L1211.5 968.0L1212.9 968.0L1214.3 968.0L1215.7 968.0L1217.1 968.0L1218.5 968.0L1219.9 968.0L1221.2 968.0L1222.6 968.0L1224.0 968.0L1225.4 968.0L1226.8 968.0L1228.2 968.0L1229.6 968.0L1231.0 968.0L1232.4 968.0L1233.8 968.0L1235.2 968.0L1236.6 968.0L1238.0 968.0L1239.4 968.0L1240.7 968.0L1242.1 968.0L1243.5 968.0L1244.9 968.0L1246.3 968.0L1247.7 968.0L1249.1 968.0L1250.5 968.0L1251.9 968.0L1253.3 968.0L1254.7 968.0L1256.1 968.0L1257.5 968.0L1258.8 968.0L1260.2 968.0L1261.6 968.0L1263.0 968.0L1264.4 968.0L1265.8 968.0L1267.2 968.0L1268.6 968.0L1270.0 968.0L1271.4 968.0L1272.8 968.0L1274.2 968.0L1275.6 968.0L1277.0 968.0L1278.3 968.0L1279.7 968.0L1281.1 968.0L1282.5 968.0L1283.9 968.0L1285.3 968.0L1286.7 968.0L1288.1 968.0L1289.5 968.0L1290.9 968.0L1292.3 968.0L1293.7 968.0L1295.1 968.0L1296.5 968.0L1297.8 968.0L1299.2 968.0L1300.6 968.0L1302.0 968.0L1303.4 968.0L1304.8 968.0L1306.2 968.0L1307.6 968.0L1309.0 968.0L1310.4 968.0L1311.8 968.0L1313.2 968.0L1314.6 968.0L1316.0 968.0L1317.3 968.0L1318.7 968.0L1320.1 968.0L1321.5 968.0L1322.9 968.0L1324.3 968.0L1325.7 968.0L1327.1 968.0L1328.5 968.0L1329.9 968.0L1331.3 968.0L1332.7 968.0L1334.1 968.0L1335.4 968.0L1336.8 968.0L1338.2 968.0L1339.6 968.0L1341.0 968.0L1342.4 968.0L1343.8 968.0L1345.2 968.0L1346.6 968.0L1348.0 968.0L1349.4 968.0L1350.8 968.0L1352.2 968.0L1353.6 968.0L1354.9 968.0L1356.3 968.0L1357.7 968.0L1359.1 968.0L1360.5 968.0L1361.9 968.0L1363.3 968.0L1364.7 968.0L1366.1 968.0L1367.5 968.0L1368.9 968.0L1370.3 968.0L1371.7 968.0L1373.1 968.0L1374.4 968.0L1375.8 968.0L1377.2 968.0L1378.6 968.0L1380.0 968.0L1381.4 968.0L1382.8 968.0L1384.2 968.0L1385.6 968.0L1387.0 968.0L1388.4 968.0L1389.8 968.0L1391.2 968.0L1392.6 968.0L1393.9 968.0L1395.3 968.0L1396.7 968.0L1398.1 968.0L1399.5 968.0L1400.9 968.0L1402.3 968.0L1403.7 968.0L1405.1 968.0L1406.5 968.0L1407.9 968.0L1409.3 968.0L1410.7 968.0L1412.1 968.0L1413.4 968.0L1414.8 968.0L1416.2 968.0L1417.6 968.0L1419.0 968.0L1420.4 968.0L1421.8 968.0L1423.2 968.0L1424.6 968.0L1426.0 968.0L1427.4 968.0L1428.8 968.0L1430.2 968.0L1431.5 968.0L1432.9 968.0L1434.3 968.0L1435.7 968.0L1437.1 968.0L1438.5 968.0L1439.9 968.0L1441.3 968.0L1442.7 968.0L1444.1 968.0L1445.5 968.0L1446.9 968.0L1448.3 968.0L1449.7 968.0L1451.0 968.0L1452.4 968.0L1453.8 968.0L1455.2 968.0L1456.6 968.0L1458.0 968.0L1459.4 968.0L1460.8 968.0L1462.2 968.0L1463.6 968.0L1465.0 968.0L1466.4 968.0L1467.8 968.0L1469.2 968.0L1470.5 968.0L1471.9 968.0L1473.3 968.0L1474.7 968.0L1476.1 968.0L1477.5 968.0L1478.9 968.0L1480.3 968.0L1481.7 968.0L1483.1 968.0L1484.5 968.0L1485.9 968.0L1487.3 968.0L1488.7 968.0L1490.0 968.0L1491.4 968.0L1492.8 968.0L1494.2 968.0L1495.6 968.0L1497.0 968.0L1498.4 968.0L1499.8 968.0L1501.2 968.0L1502.6 968.0L1504.0 968.0L1505.4 968.0L1506.8 968.0L1508.2 968.0L1509.5 968.0L1510.9 968.0L1512.3 968.0L1513.7 968.0L1515.1 968.0L1516.5 968.0L1517.9 968.0" stroke="#f00000" stroke-width="4.5" fill="none" stroke-linejoin="round" stroke-dasharray="14.3 4.3 7.6 4.3"/>
<path d="M403.7 968.0L405.1 968.0L406.5 968.0L407.9 968.0L409.3 968.0L410.7 968.0L412.1 968.0L413.4 968.0L414.8 968.0L416.2 968.0L417.6 968.0L419.0 968.0L420.4 968.0L421.8 968.0L423.2 968.0L424.6 968.0L426.0 968.0L427.4 968.0L428.8 968.0L430.2 968.0L431.6 968.0L432.9 968.0L434.3 968.0L435.7 968.0L437.1 968.0L438.5 968.0L439.9 968.0L441.3 968.0L442.7 968.0L444.1 968.0L445.5 968.0L446.9 968.0L448.3 968.0L449.7 968.0L451.1 968.0L452.4 968.0L453.8 968.0L455.2 968.0L456.6 968.0L458.0 968.0L459.4 968.0L460.8 968.0L462.2 968.0L463.6 968.0L465.0 968.0L466.4 968.0L467.8 968.0L469.2 968.0L470.6 968.0L471.9 968.0L473.3 968.0L474.7 968.0L476.1 968.0L477.5 968.0L478.9 968.0L480.3 968.0L481.7 968.0L483.1 968.0L484.5 968.0L485.9 968.0L487.3 968.0L488.7 968.0L490.1 968.0L491.4 968.0L492.8 968.0L494.2 968.0L495.6 968.0L497.0 968.0L498.4 968.0L499.8 968.0L501.2 968.0L502.6 968.0L504.0 968.0L505.4 968.0L506.8 968.0L508.2 968.0L509.5 968.0L510.9 968.0L512.3 968.0L513.7 968.0L515.1 968.0L516.5 968.0L517.9 968.0L519.3 968.0L520.7 968.0L522.1 968.0L523.5 968.0L524.9 968.0L526.3 968.0L527.7 968.0L529.0 968.0L530.4 968.0L531.8 968.0L533.2 968.0L534.6 968.0L536.0 968.0L537.4 968.0L538.8 968.0L540.2 968.0L541.6 968.0L543.0 968.0L544.4 968.0L545.8 968.0L547.2 968.0L548.5 968.0L549.9 968.0L551.3 968.0L552.7 968.0L554.1 968.0L555.5 968.0L556.9 968.0L558.3 968.0L559.7 968.0L561.1 968.0L562.5 968.0L563.9 968.0L565.3 968.0L566.7 968.0L568.0 968.0L569.4 968.0L570.8 968.0L572.2 968.0L573.6 968.0L575.0 968.0L576.4 968.0L577.8 968.0L579.2 968.0L580.6 968.0L582.0 968.0L583.4 968.0L584.8 968.0L586.2 968.0L587.5 968.0L588.9 968.0L590.3 968.0L591.7 968.0L593.1 968.0L594.5 968.0L595.9 968.0L597.3 968.0L598.7 968.0L600.1 968.0L601.5 968.0L602.9 968.0L604.3 968.0L605.6 968.0L607.0 968.0L608.4 968.0L609.8 968.0L611.2 968.0L612.6 968.0L614.0 968.0L615.4 968.0L616.8 968.0L618.2 968.0L619.6 968.0L621.0 968.0L622.4 968.0L623.8 968.0L625.1 968.0L626.5 968.0L627.9 968.0L629.3 968.0L630.7 968.0L632.1 968.0L633.5 968.0L634.9 968.0L636.3 968.0L637.7 968.0L639.1 968.0L640.5 968.0L641.9 968.0L643.3 968.0L644.6 968.0L646.0 968.0L647.4 968.0L648.8 968.0L650.2 968.0L651.6 968.0L653.0 968.0L654.4 968.0L655.8 968.0L657.2 968.0L658.6 968.0L660.0 968.0L661.4 968.0L662.8 968.0L664.1 968.0L665.5 968.0L666.9 968.0L668.3 968.0L669.7 968.0L671.1 968.0L672.5 968.0L673.9 968.0L675.3 968.0L676.7 968.0L678.1 968.0L679.5 968.0L680.9 968.0L682.2 968.0L683.6 968.0L685.0 968.0L686.4 968.0L687.8 968.0L689.2 968.0L690.6 968.0L692.0 968.0L693.4 968.0L694.8 968.0L696.2 968.0L697.6 968.0L699.0 968.0L700.4 968.0L701.7 968.0L703.1 968.0L704.5 968.0L705.9 968.0L707.3 968.0L708.7 968.0L710.1 968.0L711.5 968.0L712.9 968.0L714.3 968.0L715.7 968.0L717.1 968.0L718.5 968.0L719.9 968.0L721.2 968.0L722.6 968.0L724.0 968.0L725.4 968.0L726.8 968.0L728.2 968.0L729.6 968.0L731.0 968.0L732.4 968.0L733.8 968.0L735.2 968.0L736.6 968.0L738.0 968.0L739.4 968.0L740.7 968.0L742.1 968.0L743.5 968.0L744.9 968.0L746.3 968.0L747.7 968.0L749.1 968.0L750.5 968.0L751.9 968.0L753.3 968.0L754.7 968.0L756.1 968.0L757.5 968.0L758.9 968.0L760.2 968.0L761.6 968.0L763.0 968.0L764.4 968.0L765.8 968.0L767.2 968.0L768.6 968.0L770.0 968.0L771.4 968.0L772.8 968.0L774.2 968.0L775.6 968.0L777.0 968.0L778.3 968.0L779.7 968.0L781.1 968.0L782.5 968.0L783.9 968.0L785.3 968.0L786.7 968.0L788.1 968.0L789.5 968.0L790.9 968.0L792.3 968.0L793.7 968.0L795.1 968.0L796.5 968.0L797.8 967.9L799.2 967.9L800.6 967.9L802.0 967.9L803.4 967.9L804.8 967.9L806.2 967.9L807.6 967.9L809.0 967.9L810.4 967.9L811.8 967.9L813.2 967.9L814.6 967.9L816.0 967.9L817.3 967.9L818.7 967.9L820.1 967.9L821.5 967.8L822.9 967.8L824.3 967.8L825.7 967.8L827.1 967.8L828.5 967.8L829.9 967.8L831.3 967.8L832.7 967.8L834.1 967.7L835.5 967.7L836.8 967.7L838.2 967.7L839.6 967.7L841.0 967.6L842.4 967.6L843.8 967.6L845.2 967.6L846.6 967.5L848.0 967.5L849.4 967.5L850.8 967.5L852.2 967.4L853.6 967.4L855.0 967.3L856.3 967.3L857.7 967.3L859.1 967.2L860.5 967.2L861.9 967.1L863.3 967.1L864.7 967.0L866.1 966.9L867.5 966.9L868.9 966.8L870.3 966.7L871.7 966.7L873.1 966.6L874.4 966.5L875.8 966.4L877.2 966.3L878.6 966.2L880.0 966.1L881.4 966.0L882.8 965.8L884.2 965.7L885.6 965.6L887.0 965.4L888.4 965.3L889.8 965.1L891.2 964.9L892.6 964.7L893.9 964.5L895.3 964.3L896.7 964.1L898.1 963.8L899.5 963.6L900.9 963.3L902.3 963.0L903.7 962.8L905.1 962.4L906.5 962.1L907.9 961.8L909.3 961.4L910.7 961.0L912.1 960.6L913.4 960.2L914.8 959.7L916.2 959.2L917.6 958.7L919.0 958.2L920.4 957.7L921.8 957.1L923.2 956.5L924.6 955.8L926.0 955.2L927.4 954.5L928.8 953.8L930.2 953.1L931.6 952.3L932.9 951.5L934.3 950.7L935.7 949.8L937.1 948.9L938.5 948.0L939.9 947.1L941.3 946.2L942.7 945.2L944.1 944.3L945.5 943.3L946.9 942.3L948.3 941.3L949.7 940.3L951.1 939.3L952.4 938.3L953.8 937.3L955.2 936.3L956.6 935.3L958.0 934.4L959.4 933.4L960.8 932.5L962.2 931.7L963.6 930.8L965.0 930.0L966.4 929.2L967.8 928.5L969.2 927.8L970.5 927.2L971.9 926.6L973.3 926.0L974.7 925.5L976.1 925.1L977.5 924.7L978.9 924.3L980.3 924.0L981.7 923.7L983.1 923.5L984.5 923.3L985.9 923.1L987.3 923.0L988.7 922.9L990.0 922.9L991.4 922.9L992.8 922.9L994.2 923.0L995.6 923.1L997.0 923.2L998.4 923.3L999.8 923.5L1001.2 923.7L1002.6 923.9L1004.0 924.1L1005.4 924.3L1006.8 924.6L1008.2 924.8L1009.5 925.1L1010.9 925.4L1012.3 925.7L1013.7 926.0L1015.1 926.3L1016.5 926.6L1017.9 926.9L1019.3 927.2L1020.7 927.6L1022.1 927.9L1023.5 928.2L1024.9 928.6L1026.3 928.9L1027.7 929.2L1029.0 929.6L1030.4 929.9L1031.8 930.3L1033.2 930.6L1034.6 930.9L1036.0 931.3L1037.4 931.6L1038.8 932.0L1040.2 932.3L1041.6 932.6L1043.0 933.0L1044.4 933.3L1045.8 933.6L1047.2 934.0L1048.5 934.3L1049.9 934.6L1051.3 934.9L1052.7 935.3L1054.1 935.6L1055.5 935.9L1056.9 936.2L1058.3 936.5L1059.7 936.9L1061.1 937.2L1062.5 937.5L1063.9 937.8L1065.3 938.1L1066.6 938.4L1068.0 938.7L1069.4 939.0L1070.8 939.3L1072.2 939.6L1073.6 939.9L1075.0 940.2L1076.4 940.5L1077.8 940.7L1079.2 941.0L1080.6 941.3L1082.0 941.6L1083.4 941.9L1084.8 942.2L1086.1 942.4L1087.5 942.7L1088.9 943.0L1090.3 943.3L1091.7 943.5L1093.1 943.8L1094.5 944.1L1095.9 944.3L1097.3 944.6L1098.7 944.9L1100.1 945.1L1101.5 945.4L1102.9 945.7L1104.3 945.9L1105.6 946.2L1107.0 946.4L1108.4 946.7L1109.8 946.9L1111.2 947.2L1112.6 947.4L1114.0 947.7L1115.4 947.9L1116.8 948.2L1118.2 948.4L1119.6 948.7L1121.0 948.9L1122.4 949.1L1123.8 949.4L1125.1 949.6L1126.5 949.9L1127.9 950.1L1129.3 950.3L1130.7 950.6L1132.1 950.8L1133.5 951.0L1134.9 951.2L1136.3 951.5L1137.7 951.7L1139.1 951.9L1140.5 952.1L1141.9 952.4L1143.3 952.6L1144.6 952.8L1146.0 953.0L1147.4 953.2L1148.8 953.4L1150.2 953.6L1151.6 953.9L1153.0 954.1L1154.4 954.3L1155.8 954.5L1157.2 954.7L1158.6 954.9L1160.0 955.1L1161.4 955.3L1162.7 955.5L1164.1 955.7L1165.5 955.9L1166.9 956.1L1168.3 956.2L1169.7 956.4L1171.1 956.6L1172.5 956.8L1173.9 957.0L1175.3 957.2L1176.7 957.4L1178.1 957.5L1179.5 957.7L1180.9 957.9L1182.2 958.1L1183.6 958.2L1185.0 958.4L1186.4 958.6L1187.8 958.7L1189.2 958.9L1190.6 959.1L1192.0 959.2L1193.4 959.4L1194.8 959.5L1196.2 959.7L1197.6 959.8L1199.0 960.0L1200.4 960.2L1201.7 960.3L1203.1 960.4L1204.5 960.6L1205.9 960.7L1207.3 960.9L1208.7 961.0L1210.1 961.2L1211.5 961.3L1212.9 961.4L1214.3 961.6L1215.7 961.7L1217.1 961.8L1218.5 961.9L1219.9 962.1L1221.2 962.2L1222.6 962.3L1224.0 962.4L1225.4 962.5L1226.8 962.7L1228.2 962.8L1229.6 962.9L1231.0 963.0L1232.4 963.1L1233.8 963.2L1235.2 963.3L1236.6 963.4L1238.0 963.5L1239.4 963.6L1240.7 963.7L1242.1 963.8L1243.5 963.9L1244.9 964.0L1246.3 964.1L1247.7 964.2L1249.1 964.3L1250.5 964.4L1251.9 964.5L1253.3 964.6L1254.7 964.6L1256.1 964.7L1257.5 964.8L1258.8 964.9L1260.2 965.0L1261.6 965.0L1263.0 965.1L1264.4 965.2L1265.8 965.2L1267.2 965.3L1268.6 965.4L1270.0 965.5L1271.4 965.5L1272.8 965.6L1274.2 965.6L1275.6 965.7L1277.0 965.8L1278.3 965.8L1279.7 965.9L1281.1 965.9L1282.5 966.0L1283.9 966.1L1285.3 966.1L1286.7 966.2L1288.1 966.2L1289.5 966.3L1290.9 966.3L1292.3 966.4L1293.7 966.4L1295.1 966.4L1296.5 966.5L1297.8 966.5L1299.2 966.6L1300.6 966.6L1302.0 966.7L1303.4 966.7L1304.8 966.7L1306.2 966.8L1307.6 966.8L1309.0 966.8L1310.4 966.9L1311.8 966.9L1313.2 966.9L1314.6 967.0L1316.0 967.0L1317.3 967.0L1318.7 967.1L1320.1 967.1L1321.5 967.1L1322.9 967.2L1324.3 967.2L1325.7 967.2L1327.1 967.2L1328.5 967.3L1329.9 967.3L1331.3 967.3L1332.7 967.3L1334.1 967.4L1335.4 967.4L1336.8 967.4L1338.2 967.4L1339.6 967.4L1341.0 967.5L1342.4 967.5L1343.8 967.5L1345.2 967.5L1346.6 967.5L1348.0 967.5L1349.4 967.6L1350.8 967.6L1352.2 967.6L1353.6 967.6L1354.9 967.6L1356.3 967.6L1357.7 967.6L1359.1 967.7L1360.5 967.7L1361.9 967.7L1363.3 967.7L1364.7 967.7L1366.1 967.7L1367.5 967.7L1368.9 967.7L1370.3 967.7L1371.7 967.8L1373.1 967.8L1374.4 967.8L1375.8 967.8L1377.2 967.8L1378.6 967.8L1380.0 967.8L1381.4 967.8L1382.8 967.8L1384.2 967.8L1385.6 967.8L1387.0 967.8L1388.4 967.8L1389.8 967.8L1391.2 967.9L1392.6 967.9L1393.9 967.9L1395.3 967.9L1396.7 967.9L1398.1 967.9L1399.5 967.9L1400.9 967.9L1402.3 967.9L1403.7 967.9L1405.1 967.9L1406.5 967.9L1407.9 967.9L1409.3 967.9L1410.7 967.9L1412.1 967.9L1413.4 967.9L1414.8 967.9L1416.2 967.9L1417.6 967.9L1419.0 967.9L1420.4 967.9L1421.8 967.9L1423.2 967.9L1424.6 967.9L1426.0 967.9L1427.4 968.0L1428.8 968.0L1430.2 968.0L1431.5 968.0L1432.9 968.0L1434.3 968.0L1435.7 968.0L1437.1 968.0L1438.5 968.0L1439.9 968.0L1441.3 968.0L1442.7 968.0L1444.1 968.0L1445.5 968.0L1446.9 968.0L1448.3 968.0L1449.7 968.0L1451.0 968.0L1452.4 968.0L1453.8 968.0L1455.2 968.0L1456.6 968.0L1458.0 968.0L1459.4 968.0L1460.8 968.0L1462.2 968.0L1463.6 968.0L1465.0 968.0L1466.4 968.0L1467.8 968.0L1469.2 968.0L1470.5 968.0L1471.9 968.0L1473.3 968.0L1474.7 968.0L1476.1 968.0L1477.5 968.0L1478.9 968.0L1480.3 968.0L1481.7 968.0L1483.1 968.0L1484.5 968.0L1485.9 968.0L1487.3 968.0L1488.7 968.0L1490.0 968.0L1491.4 968.0L1492.8 968.0L1494.2 968.0L1495.6 968.0L1497.0 968.0L1498.4 968.0L1499.8 968.0L1501.2 968.0L1502.6 968.0L1504.0 968.0L1505.4 968.0L1506.8 968.0L1508.2 968.0L1509.5 968.0L1510.9 968.0L1512.3 968.0L1513.7 968.0L1515.1 968.0L1516.5 968.0L1517.9 968.0" stroke="#0000f0" stroke-width="4.5" fill="none" stroke-linejoin="round" stroke-dasharray="14.3 4.3 7.6 4.3"/>
<g font-family="Liberation Serif" font-size="52.5" fill="#262626"><text x="403.7" y="1031" text-anchor="middle">-8</text><text x="543.0" y="1031" text-anchor="middle">-6</text><text x="682.2" y="1031" text-anchor="middle">-4</text><text x="821.5" y="1031" text-anchor="middle">-2</text><text x="960.8" y="1031" text-anchor="middle">0</text><text x="1100.1" y="1031" text-anchor="middle">2</text><text x="1239.4" y="1031" text-anchor="middle">4</text><text x="1378.6" y="1031" text-anchor="middle">6</text><text x="1517.9" y="1031" text-anchor="middle">8</text><text x="386.3" y="986.3" text-anchor="end">0</text><text x="386.3" y="848.0" text-anchor="end">0.2</text><text x="386.3" y="709.2" text-anchor="end">0.4</text><text x="386.3" y="569.3" text-anchor="end">0.6</text><text x="386.3" y="432.7" text-anchor="end">0.8</text><text x="386.3" y="293.6" text-anchor="end">1</text><text x="386.3" y="155.6" text-anchor="end">1.2</text></g>
<g font-family="Liberation Serif" fill="#262626"><text x="598.36" y="1098" font-size="57" letter-spacing="-0.62">Relative frequency</text><text x="1037.40" y="1098" font-size="57">(</text><path transform="translate(1058.90 1097.60) scale(1.000)" d="M1.4 -23.6 L9.1 -23.6 L4.8 -3.4 C9.5 -5 16 -9.5 19.9 -16.5 C21.6 -19.3 22.4 -21 22.3 -22.6 C22.4 -24 24 -24.4 25 -24.1 C26.3 -23.6 26.1 -21.5 25.4 -19.8 C22.5 -12 16 -4 2.2 0 L0 0 L3.0 -22.0 L1.4 -22.3 Z" fill="#262626"/><text x="1084.08" y="1098" font-size="57">-</text><path transform="translate(1106.10 1097.60) scale(1.000)" d="M1.4 -23.6 L9.1 -23.6 L4.8 -3.4 C9.5 -5 16 -9.5 19.9 -16.5 C21.6 -19.3 22.4 -21 22.3 -22.6 C22.4 -24 24 -24.4 25 -24.1 C26.3 -23.6 26.1 -21.5 25.4 -19.8 C22.5 -12 16 -4 2.2 0 L0 0 L3.0 -22.0 L1.4 -22.3 Z" fill="#262626"/><text x="1132.22" y="1124.1" font-size="44">0</text><text x="1153.96" y="1098" font-size="57">)</text><text x="1188.00" y="1098" font-size="57">/</text><text x="1218.06" y="1098" font-size="57">GHz</text></g>
<text transform="translate(303.6 552.5) rotate(-90)" x="0" y="0" text-anchor="middle" font-family="Liberation Serif" font-size="55.3" letter-spacing="0.23" fill="#262626">Intensity and transmission / a.u.</text>
<path d="M416.7 169.0H493.4" stroke="#f00000" stroke-width="4.5"/>
<path d="M416.7 226.2H493.4" stroke="#0000f0" stroke-width="4.5"/>
<path d="M416.7 285.2H493.4" stroke="#f00000" stroke-width="4.5" stroke-dasharray="14 16.48"/>
<path d="M416.7 342.6H493.4" stroke="#0000f0" stroke-width="4.5" stroke-dasharray="14 16.48"/>
<path d="M416.7 401.2H493.4" stroke="#f000f0" stroke-width="4.5"/>
<path d="M416.7 458.7H493.4" stroke="#10f010" stroke-width="4.5"/>
<path d="M416.7 509.9H493.4" stroke="#000" stroke-width="4.5"/>
<path d="M416.7 559.9H493.4" stroke="#f00000" stroke-width="4.5" stroke-dasharray="3.4 4.26" stroke-dashoffset="0.8"/>
<path d="M416.7 618.8H493.4" stroke="#0000f0" stroke-width="4.5" stroke-dasharray="3.4 4.26" stroke-dashoffset="0.8"/>
<path d="M416.7 675.8H493.4" stroke="#f00000" stroke-width="4.5" stroke-dasharray="14.3 4.3 7.6 4.3"/>
<path d="M416.7 734.9H493.4" stroke="#0000f0" stroke-width="4.5" stroke-dasharray="14.3 4.3 7.6 4.3"/>
<g font-family="Liberation Serif" fill="#000"><text x="498.00" y="173.60" font-size="35.7">Rayleigh spectrum</text><text x="774.43" y="173.60" font-size="35.7">(</text><path transform="translate(788.90 173.50) scale(0.665)" d="M1.4 -23.6 L9.1 -23.6 L4.8 -3.4 C9.5 -5 16 -9.5 19.9 -16.5 C21.6 -19.3 22.4 -21 22.3 -22.6 C22.4 -24 24 -24.4 25 -24.1 C26.3 -23.6 26.1 -21.5 25.4 -19.8 C22.5 -12 16 -4 2.2 0 L0 0 L3.0 -22.0 L1.4 -22.3 Z" fill="#000"/><text x="806.53" y="190.60" font-size="28.0">01</text><text x="837.64" y="173.60" font-size="35.7">,</text><path transform="translate(848.30 173.50) scale(0.665)" d="M1.4 -23.6 L9.1 -23.6 L4.8 -3.4 C9.5 -5 16 -9.5 19.9 -16.5 C21.6 -19.3 22.4 -21 22.3 -22.6 C22.4 -24 24 -24.4 25 -24.1 C26.3 -23.6 26.1 -21.5 25.4 -19.8 C22.5 -12 16 -4 2.2 0 L0 0 L3.0 -22.0 L1.4 -22.3 Z" fill="#000"/><text x="865.49" y="190.60" font-size="28.0">d</text><text x="879.22" y="173.60" font-size="35.7">=0GHz)</text><text x="498.00" y="232.60" font-size="35.7">Rayleigh spectrum</text><text x="774.43" y="232.60" font-size="35.7">(</text><path transform="translate(788.90 232.50) scale(0.665)" d="M1.4 -23.6 L9.1 -23.6 L4.8 -3.4 C9.5 -5 16 -9.5 19.9 -16.5 C21.6 -19.3 22.4 -21 22.3 -22.6 C22.4 -24 24 -24.4 25 -24.1 C26.3 -23.6 26.1 -21.5 25.4 -19.8 C22.5 -12 16 -4 2.2 0 L0 0 L3.0 -22.0 L1.4 -22.3 Z" fill="#000"/><text x="806.53" y="249.60" font-size="28.0">02</text><text x="837.64" y="232.60" font-size="35.7">,</text><path transform="translate(848.30 232.50) scale(0.665)" d="M1.4 -23.6 L9.1 -23.6 L4.8 -3.4 C9.5 -5 16 -9.5 19.9 -16.5 C21.6 -19.3 22.4 -21 22.3 -22.6 C22.4 -24 24 -24.4 25 -24.1 C26.3 -23.6 26.1 -21.5 25.4 -19.8 C22.5 -12 16 -4 2.2 0 L0 0 L3.0 -22.0 L1.4 -22.3 Z" fill="#000"/><text x="865.49" y="249.60" font-size="28.0">d</text><text x="879.22" y="232.60" font-size="35.7">=0GHz)</text><text x="498.00" y="289.40" font-size="35.7">Rayleigh spectrum</text><text x="774.43" y="289.40" font-size="35.7">(</text><path transform="translate(788.90 289.30) scale(0.665)" d="M1.4 -23.6 L9.1 -23.6 L4.8 -3.4 C9.5 -5 16 -9.5 19.9 -16.5 C21.6 -19.3 22.4 -21 22.3 -22.6 C22.4 -24 24 -24.4 25 -24.1 C26.3 -23.6 26.1 -21.5 25.4 -19.8 C22.5 -12 16 -4 2.2 0 L0 0 L3.0 -22.0 L1.4 -22.3 Z" fill="#000"/><text x="806.53" y="306.40" font-size="28.0">01</text><text x="837.64" y="289.40" font-size="35.7">,</text><path transform="translate(848.30 289.30) scale(0.665)" d="M1.4 -23.6 L9.1 -23.6 L4.8 -3.4 C9.5 -5 16 -9.5 19.9 -16.5 C21.6 -19.3 22.4 -21 22.3 -22.6 C22.4 -24 24 -24.4 25 -24.1 C26.3 -23.6 26.1 -21.5 25.4 -19.8 C22.5 -12 16 -4 2.2 0 L0 0 L3.0 -22.0 L1.4 -22.3 Z" fill="#000"/><text x="865.49" y="306.40" font-size="28.0">d</text><text x="879.22" y="289.40" font-size="35.7">=0.54GHz)</text><text x="498.00" y="346.70" font-size="35.7">Rayleigh spectrum</text><text x="774.43" y="346.70" font-size="35.7">(</text><path transform="translate(788.90 346.60) scale(0.665)" d="M1.4 -23.6 L9.1 -23.6 L4.8 -3.4 C9.5 -5 16 -9.5 19.9 -16.5 C21.6 -19.3 22.4 -21 22.3 -22.6 C22.4 -24 24 -24.4 25 -24.1 C26.3 -23.6 26.1 -21.5 25.4 -19.8 C22.5 -12 16 -4 2.2 0 L0 0 L3.0 -22.0 L1.4 -22.3 Z" fill="#000"/><text x="806.53" y="363.70" font-size="28.0">02</text><text x="837.64" y="346.70" font-size="35.7">,</text><path transform="translate(848.30 346.60) scale(0.665)" d="M1.4 -23.6 L9.1 -23.6 L4.8 -3.4 C9.5 -5 16 -9.5 19.9 -16.5 C21.6 -19.3 22.4 -21 22.3 -22.6 C22.4 -24 24 -24.4 25 -24.1 C26.3 -23.6 26.1 -21.5 25.4 -19.8 C22.5 -12 16 -4 2.2 0 L0 0 L3.0 -22.0 L1.4 -22.3 Z" fill="#000"/><text x="865.49" y="363.70" font-size="28.0">d</text><text x="879.22" y="346.70" font-size="35.7">=0.54GHz)</text><text x="498.00" y="406.10" font-size="35.7">Laser frequency</text><text x="735.93" y="406.10" font-size="35.7">(</text><path transform="translate(750.40 406.00) scale(0.665)" d="M1.4 -23.6 L9.1 -23.6 L4.8 -3.4 C9.5 -5 16 -9.5 19.9 -16.5 C21.6 -19.3 22.4 -21 22.3 -22.6 C22.4 -24 24 -24.4 25 -24.1 C26.3 -23.6 26.1 -21.5 25.4 -19.8 C22.5 -12 16 -4 2.2 0 L0 0 L3.0 -22.0 L1.4 -22.3 Z" fill="#000"/><text x="768.03" y="423.10" font-size="28.0">01</text><text x="798.75" y="406.10" font-size="35.7">)</text><text x="498.00" y="465.10" font-size="35.7">Laser frequency</text><text x="735.93" y="465.10" font-size="35.7">(</text><path transform="translate(750.40 465.00) scale(0.665)" d="M1.4 -23.6 L9.1 -23.6 L4.8 -3.4 C9.5 -5 16 -9.5 19.9 -16.5 C21.6 -19.3 22.4 -21 22.3 -22.6 C22.4 -24 24 -24.4 25 -24.1 C26.3 -23.6 26.1 -21.5 25.4 -19.8 C22.5 -12 16 -4 2.2 0 L0 0 L3.0 -22.0 L1.4 -22.3 Z" fill="#000"/><text x="768.03" y="482.10" font-size="28.0">02</text><text x="798.75" y="465.10" font-size="35.7">)</text><text x="498.00" y="522.10" font-size="35.7">FP transmission</text><text x="498.00" y="565.70" font-size="35.7">Intensity</text><text x="630.93" y="565.70" font-size="35.7">(</text><path transform="translate(645.40 565.60) scale(0.665)" d="M1.4 -23.6 L9.1 -23.6 L4.8 -3.4 C9.5 -5 16 -9.5 19.9 -16.5 C21.6 -19.3 22.4 -21 22.3 -22.6 C22.4 -24 24 -24.4 25 -24.1 C26.3 -23.6 26.1 -21.5 25.4 -19.8 C22.5 -12 16 -4 2.2 0 L0 0 L3.0 -22.0 L1.4 -22.3 Z" fill="#000"/><text x="663.03" y="582.70" font-size="28.0">01</text><text x="694.14" y="565.70" font-size="35.7">,</text><path transform="translate(704.80 565.60) scale(0.665)" d="M1.4 -23.6 L9.1 -23.6 L4.8 -3.4 C9.5 -5 16 -9.5 19.9 -16.5 C21.6 -19.3 22.4 -21 22.3 -22.6 C22.4 -24 24 -24.4 25 -24.1 C26.3 -23.6 26.1 -21.5 25.4 -19.8 C22.5 -12 16 -4 2.2 0 L0 0 L3.0 -22.0 L1.4 -22.3 Z" fill="#000"/><text x="721.99" y="582.70" font-size="28.0">d</text><text x="735.72" y="565.70" font-size="35.7">=0GHz)</text><text x="498.00" y="622.90" font-size="35.7">Intensity</text><text x="630.93" y="622.90" font-size="35.7">(</text><path transform="translate(645.40 622.80) scale(0.665)" d="M1.4 -23.6 L9.1 -23.6 L4.8 -3.4 C9.5 -5 16 -9.5 19.9 -16.5 C21.6 -19.3 22.4 -21 22.3 -22.6 C22.4 -24 24 -24.4 25 -24.1 C26.3 -23.6 26.1 -21.5 25.4 -19.8 C22.5 -12 16 -4 2.2 0 L0 0 L3.0 -22.0 L1.4 -22.3 Z" fill="#000"/><text x="663.03" y="639.90" font-size="28.0">02</text><text x="694.14" y="622.90" font-size="35.7">,</text><path transform="translate(704.80 622.80) scale(0.665)" d="M1.4 -23.6 L9.1 -23.6 L4.8 -3.4 C9.5 -5 16 -9.5 19.9 -16.5 C21.6 -19.3 22.4 -21 22.3 -22.6 C22.4 -24 24 -24.4 25 -24.1 C26.3 -23.6 26.1 -21.5 25.4 -19.8 C22.5 -12 16 -4 2.2 0 L0 0 L3.0 -22.0 L1.4 -22.3 Z" fill="#000"/><text x="721.99" y="639.90" font-size="28.0">d</text><text x="735.72" y="622.90" font-size="35.7">=0GHz)</text><text x="498.00" y="681.90" font-size="35.7">Intensity</text><text x="630.93" y="681.90" font-size="35.7">(</text><path transform="translate(645.40 681.80) scale(0.665)" d="M1.4 -23.6 L9.1 -23.6 L4.8 -3.4 C9.5 -5 16 -9.5 19.9 -16.5 C21.6 -19.3 22.4 -21 22.3 -22.6 C22.4 -24 24 -24.4 25 -24.1 C26.3 -23.6 26.1 -21.5 25.4 -19.8 C22.5 -12 16 -4 2.2 0 L0 0 L3.0 -22.0 L1.4 -22.3 Z" fill="#000"/><text x="663.03" y="698.90" font-size="28.0">01</text><text x="694.14" y="681.90" font-size="35.7">,</text><path transform="translate(704.80 681.80) scale(0.665)" d="M1.4 -23.6 L9.1 -23.6 L4.8 -3.4 C9.5 -5 16 -9.5 19.9 -16.5 C21.6 -19.3 22.4 -21 22.3 -22.6 C22.4 -24 24 -24.4 25 -24.1 C26.3 -23.6 26.1 -21.5 25.4 -19.8 C22.5 -12 16 -4 2.2 0 L0 0 L3.0 -22.0 L1.4 -22.3 Z" fill="#000"/><text x="721.99" y="698.90" font-size="28.0">d</text><text x="735.72" y="681.90" font-size="35.7">=0.54GHz)</text><text x="498.00" y="739.10" font-size="35.7">Intensity</text><text x="630.93" y="739.10" font-size="35.7">(</text><path transform="translate(645.40 739.00) scale(0.665)" d="M1.4 -23.6 L9.1 -23.6 L4.8 -3.4 C9.5 -5 16 -9.5 19.9 -16.5 C21.6 -19.3 22.4 -21 22.3 -22.6 C22.4 -24 24 -24.4 25 -24.1 C26.3 -23.6 26.1 -21.5 25.4 -19.8 C22.5 -12 16 -4 2.2 0 L0 0 L3.0 -22.0 L1.4 -22.3 Z" fill="#000"/><text x="663.03" y="756.10" font-size="28.0">02</text><text x="694.14" y="739.10" font-size="35.7">,</text><path transform="translate(704.80 739.00) scale(0.665)" d="M1.4 -23.6 L9.1 -23.6 L4.8 -3.4 C9.5 -5 16 -9.5 19.9 -16.5 C21.6 -19.3 22.4 -21 22.3 -22.6 C22.4 -24 24 -24.4 25 -24.1 C26.3 -23.6 26.1 -21.5 25.4 -19.8 C22.5 -12 16 -4 2.2 0 L0 0 L3.0 -22.0 L1.4 -22.3 Z" fill="#000"/><text x="721.99" y="756.10" font-size="28.0">d</text><text x="735.72" y="739.10" font-size="35.7">=0.54GHz)</text></g>
</svg>
</body></html>
